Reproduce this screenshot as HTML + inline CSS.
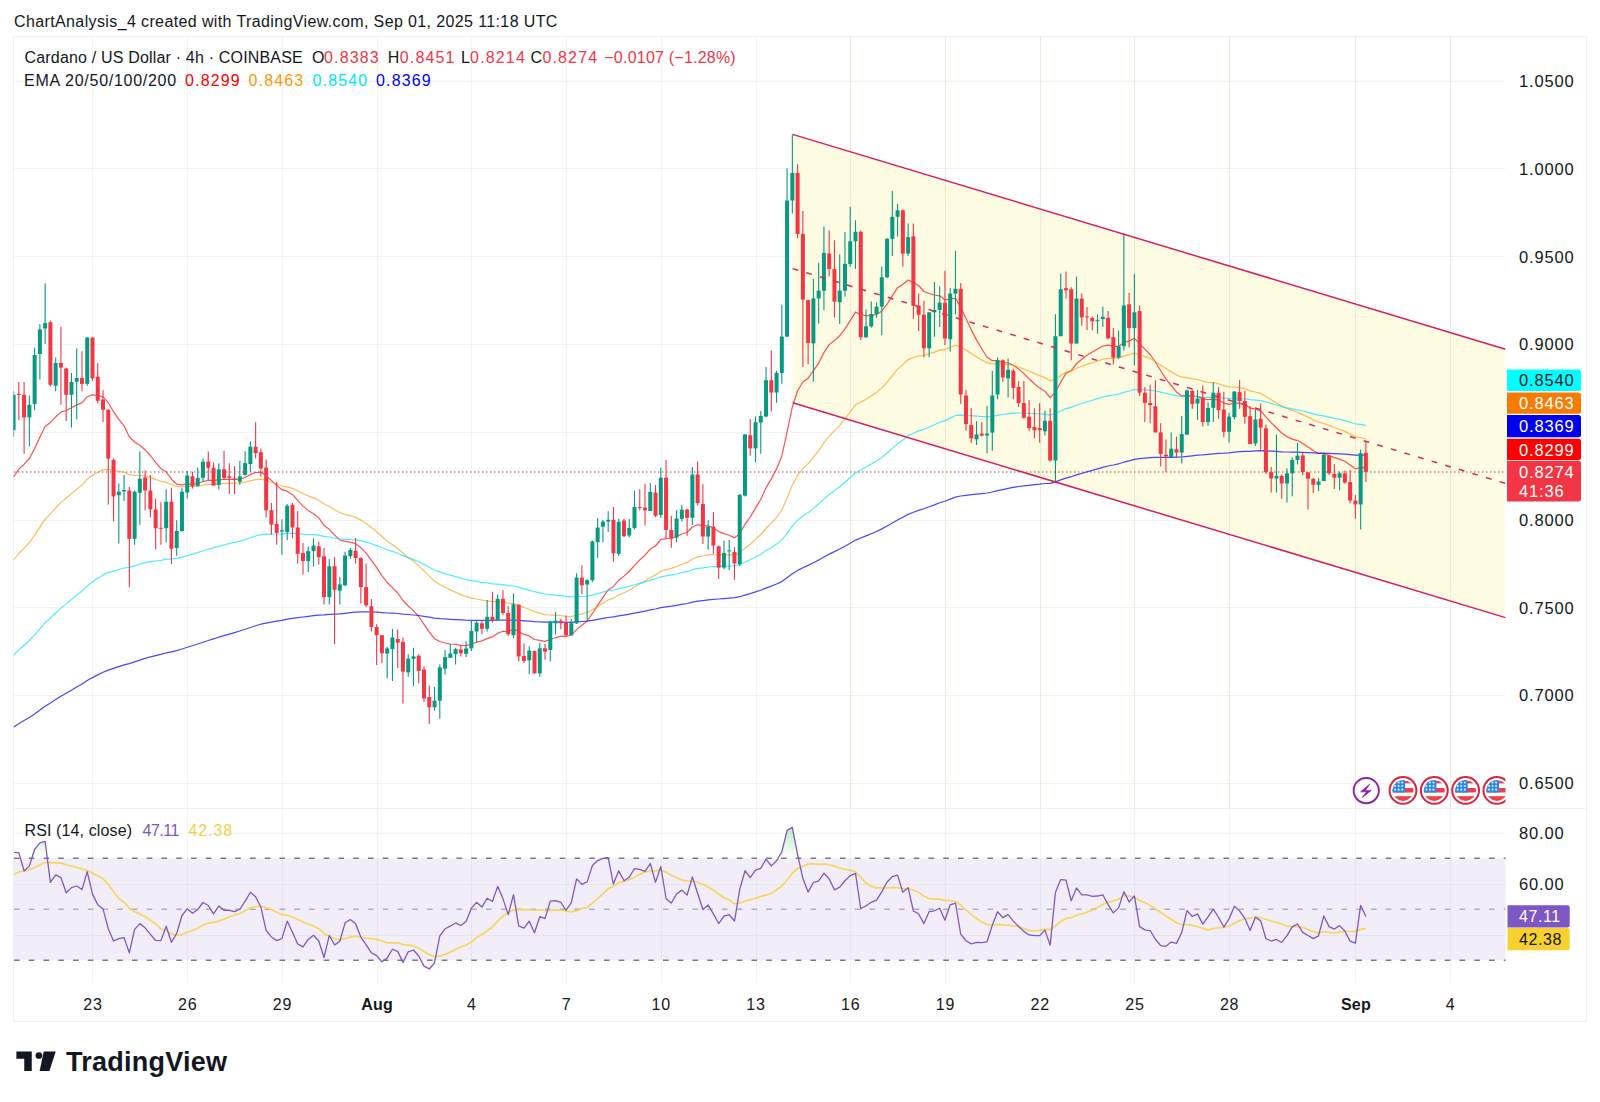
<!DOCTYPE html><html><head><meta charset="utf-8"><style>html,body{margin:0;padding:0;background:#fff;}svg{display:block;}text{font-family:"Liberation Sans",sans-serif;}</style></head><body>
<svg width="1600" height="1102" viewBox="0 0 1600 1102">
<rect x="0" y="0" width="1600" height="1102" fill="#ffffff"/>
<text x="14" y="27" font-size="16" fill="#131722" letter-spacing="0.38">ChartAnalysis_4 created with TradingView.com, Sep 01, 2025 11:18 UTC</text>
<rect x="13.5" y="36.5" width="1573" height="985" fill="none" stroke="#eef0f4" stroke-width="1"/>
<line x1="13.5" y1="808.5" x2="1586.5" y2="808.5" stroke="#eef0f4" stroke-width="1"/>
<defs><clipPath id="pane"><rect x="13.5" y="37" width="1492" height="771"/></clipPath><clipPath id="rsi"><rect x="14" y="809" width="1491.5" height="174"/></clipPath></defs>
<line x1="92.5" y1="37" x2="92.5" y2="983" stroke="#f2f3f6" stroke-width="1"/>
<line x1="187.5" y1="37" x2="187.5" y2="983" stroke="#f2f3f6" stroke-width="1"/>
<line x1="282.5" y1="37" x2="282.5" y2="983" stroke="#f2f3f6" stroke-width="1"/>
<line x1="377.5" y1="37" x2="377.5" y2="983" stroke="#f2f3f6" stroke-width="1"/>
<line x1="471.5" y1="37" x2="471.5" y2="983" stroke="#f2f3f6" stroke-width="1"/>
<line x1="566.5" y1="37" x2="566.5" y2="983" stroke="#f2f3f6" stroke-width="1"/>
<line x1="661.5" y1="37" x2="661.5" y2="983" stroke="#f2f3f6" stroke-width="1"/>
<line x1="756.5" y1="37" x2="756.5" y2="983" stroke="#f2f3f6" stroke-width="1"/>
<line x1="850.5" y1="37" x2="850.5" y2="983" stroke="#f2f3f6" stroke-width="1"/>
<line x1="945.5" y1="37" x2="945.5" y2="983" stroke="#f2f3f6" stroke-width="1"/>
<line x1="1040.5" y1="37" x2="1040.5" y2="983" stroke="#f2f3f6" stroke-width="1"/>
<line x1="1134.5" y1="37" x2="1134.5" y2="983" stroke="#f2f3f6" stroke-width="1"/>
<line x1="1229.5" y1="37" x2="1229.5" y2="983" stroke="#f2f3f6" stroke-width="1"/>
<line x1="1355.5" y1="37" x2="1355.5" y2="983" stroke="#f2f3f6" stroke-width="1"/>
<line x1="1450.5" y1="37" x2="1450.5" y2="983" stroke="#f2f3f6" stroke-width="1"/>
<line x1="14" y1="81.5" x2="1505.5" y2="81.5" stroke="#f2f3f6" stroke-width="1"/>
<line x1="14" y1="168.5" x2="1505.5" y2="168.5" stroke="#f2f3f6" stroke-width="1"/>
<line x1="14" y1="256.5" x2="1505.5" y2="256.5" stroke="#f2f3f6" stroke-width="1"/>
<line x1="14" y1="344.5" x2="1505.5" y2="344.5" stroke="#f2f3f6" stroke-width="1"/>
<line x1="14" y1="432.5" x2="1505.5" y2="432.5" stroke="#f2f3f6" stroke-width="1"/>
<line x1="14" y1="520.5" x2="1505.5" y2="520.5" stroke="#f2f3f6" stroke-width="1"/>
<line x1="14" y1="607.5" x2="1505.5" y2="607.5" stroke="#f2f3f6" stroke-width="1"/>
<line x1="14" y1="695.5" x2="1505.5" y2="695.5" stroke="#f2f3f6" stroke-width="1"/>
<line x1="14" y1="783.5" x2="1505.5" y2="783.5" stroke="#f2f3f6" stroke-width="1"/>
<line x1="14" y1="833.5" x2="1505.5" y2="833.5" stroke="#f2f3f6" stroke-width="1"/>
<line x1="14" y1="884.5" x2="1505.5" y2="884.5" stroke="#f2f3f6" stroke-width="1"/>
<line x1="14" y1="935.5" x2="1505.5" y2="935.5" stroke="#f2f3f6" stroke-width="1"/>
<g clip-path="url(#pane)">
<polygon points="792.6,134.4 1505.5,349.19677 1505.5,617.59677 792.6,402.8" fill="#fdfbe2"/>
<line x1="850.5" y1="37" x2="850.5" y2="808" stroke="#ecebd8" stroke-width="1"/>
<line x1="945.5" y1="37" x2="945.5" y2="808" stroke="#ecebd8" stroke-width="1"/>
<line x1="1040.5" y1="37" x2="1040.5" y2="808" stroke="#ecebd8" stroke-width="1"/>
<line x1="1134.5" y1="37" x2="1134.5" y2="808" stroke="#ecebd8" stroke-width="1"/>
<line x1="1229.5" y1="37" x2="1229.5" y2="808" stroke="#ecebd8" stroke-width="1"/>
<line x1="1355.5" y1="37" x2="1355.5" y2="808" stroke="#ecebd8" stroke-width="1"/>
<line x1="1450.5" y1="37" x2="1450.5" y2="808" stroke="#ecebd8" stroke-width="1"/>
</g>
<g clip-path="url(#pane)">
<line x1="14" y1="472" x2="1505.5" y2="472" stroke="#c85a5e" stroke-width="1.7" stroke-dasharray="1.4 2.6" opacity="0.8"/>
<polyline points="13.6,476.9 18.8,469.1 24.1,464.2 29.4,458.5 34.6,448.6 39.9,437.3 45.1,426.4 50.4,422.4 55.7,416.8 60.9,412.1 66.2,410.5 71.5,407.7 76.7,404.9 82.0,402.9 87.2,396.7 92.5,394.9 97.8,395.5 103.0,396.9 108.3,402.7 113.5,411.7 118.8,419.3 124.1,426.0 129.3,436.8 134.6,442.0 139.9,445.5 145.1,449.8 150.4,455.5 155.6,462.4 160.9,468.7 166.2,471.8 171.4,479.2 176.7,484.1 182.0,484.8 187.2,483.9 192.5,484.2 197.7,483.6 203.0,481.5 208.3,480.2 213.5,480.7 218.8,479.6 224.0,479.4 229.3,479.3 234.6,479.3 239.8,479.1 245.1,477.5 250.4,474.6 255.6,472.5 260.9,472.2 266.1,475.8 271.4,480.4 276.7,485.4 281.9,489.7 287.2,491.2 292.5,494.7 297.7,500.3 303.0,506.1 308.2,510.4 313.5,513.7 318.8,517.9 324.0,525.4 329.3,529.3 334.6,535.1 339.8,539.8 345.1,541.3 350.3,542.1 355.6,543.6 360.9,547.7 366.1,553.2 371.4,560.3 376.6,567.4 381.9,575.6 387.2,582.5 392.4,587.7 397.7,593.0 403.0,600.5 408.2,606.0 413.5,610.8 418.7,616.5 424.0,624.3 429.3,632.2 434.5,638.7 439.8,641.5 445.1,643.0 450.3,644.0 455.6,644.4 460.8,645.3 466.1,645.6 471.4,644.2 476.6,642.2 481.9,640.9 487.1,638.6 492.4,636.9 497.7,633.3 502.9,631.3 508.2,631.6 513.5,629.0 518.7,631.6 524.0,634.4 529.2,635.9 534.5,639.5 539.8,640.3 545.0,641.4 550.3,639.5 555.6,637.7 560.8,636.4 566.1,636.3 571.3,635.0 576.6,629.6 581.9,625.3 587.1,621.0 592.4,613.5 597.7,605.3 602.9,597.3 608.2,589.9 613.4,586.4 618.7,580.3 624.0,576.1 629.2,571.5 634.5,565.4 639.7,559.9 645.0,555.2 650.3,549.1 655.5,546.0 660.8,539.5 666.1,538.6 671.3,538.5 676.6,536.6 681.8,534.0 687.1,532.5 692.4,527.0 697.6,524.7 702.9,525.8 708.2,525.9 713.4,527.8 718.7,531.6 723.9,533.6 729.2,535.2 734.5,537.9 739.7,533.8 745.0,524.3 750.2,517.1 755.5,508.1 760.8,499.3 766.0,487.9 771.3,478.9 776.6,468.8 781.8,456.2 787.1,431.8 792.3,407.2 797.6,390.7 802.9,382.0 808.1,378.3 813.4,370.7 818.7,363.1 823.9,352.6 829.2,344.6 834.4,340.5 839.7,335.8 845.0,328.9 850.2,320.6 855.5,312.1 860.8,314.5 866.0,315.6 871.3,315.5 876.5,314.6 881.8,311.1 887.1,304.2 892.3,295.9 897.6,287.7 902.8,284.5 908.1,280.0 913.4,282.4 918.6,285.5 923.9,291.5 929.2,293.5 934.4,295.0 939.7,295.8 944.9,299.8 950.2,299.2 955.5,298.2 960.7,307.4 966.0,318.5 971.3,329.9 976.5,339.9 981.8,349.0 987.0,357.0 992.3,360.7 997.6,360.7 1002.8,362.3 1008.1,363.0 1013.3,365.3 1018.6,368.9 1023.9,373.6 1029.1,378.8 1034.4,383.7 1039.7,388.1 1044.9,391.2 1050.2,397.8 1055.4,391.9 1060.7,382.2 1066.0,373.4 1071.2,370.6 1076.5,363.7 1081.8,359.3 1087.0,355.3 1092.3,352.1 1097.5,349.0 1102.8,346.0 1108.1,345.2 1113.3,346.4 1118.6,346.4 1123.9,342.5 1129.1,341.1 1134.4,338.4 1139.6,343.6 1144.9,349.2 1150.2,354.5 1155.4,362.0 1160.7,370.7 1165.9,378.9 1171.2,385.5 1176.5,391.9 1181.7,395.9 1187.0,395.4 1192.3,396.2 1197.5,396.4 1202.8,398.9 1208.0,399.7 1213.3,399.1 1218.6,400.1 1223.8,403.1 1229.1,404.4 1234.4,403.2 1239.6,403.0 1244.9,404.3 1250.1,408.1 1255.4,409.2 1260.7,410.9 1265.9,416.8 1271.2,422.6 1276.4,427.7 1281.7,433.0 1287.0,436.8 1292.2,439.1 1297.5,440.6 1302.8,443.6 1308.0,447.0 1313.3,450.6 1318.5,453.5 1323.8,453.6 1329.1,455.5 1334.3,457.6 1339.6,459.1 1344.9,461.3 1350.1,465.1 1355.4,468.8 1360.6,467.3 1365.9,467.8" fill="none" stroke="#FF0000" stroke-width="1.2" opacity="0.68" stroke-linejoin="round"/>
<polyline points="13.6,560.0 18.8,553.5 24.1,548.2 29.4,542.5 34.6,535.2 39.9,527.1 45.1,519.1 50.4,513.8 55.7,507.9 60.9,502.4 66.2,498.2 71.5,493.6 76.7,489.1 82.0,485.0 87.2,479.2 92.5,475.3 97.8,472.3 103.0,469.9 108.3,469.4 113.5,470.5 118.8,471.3 124.1,472.1 129.3,474.7 134.6,475.3 139.9,475.5 145.1,476.1 150.4,477.4 155.6,479.4 160.9,481.3 166.2,482.1 171.4,484.7 176.7,486.5 182.0,486.7 187.2,486.3 192.5,486.3 197.7,486.0 203.0,485.0 208.3,484.3 213.5,484.4 218.8,483.8 224.0,483.5 229.3,483.3 234.6,483.2 239.8,482.9 245.1,482.1 250.4,480.8 255.6,479.7 260.9,479.2 266.1,480.4 271.4,482.2 276.7,484.2 281.9,486.0 287.2,486.8 292.5,488.3 297.7,490.9 303.0,493.7 308.2,495.9 313.5,497.9 318.8,500.2 324.0,504.0 329.3,506.4 334.6,509.7 339.8,512.6 345.1,514.3 350.3,515.7 355.6,517.4 360.9,520.1 366.1,523.4 371.4,527.5 376.6,531.7 381.9,536.5 387.2,540.9 392.4,544.7 397.7,548.5 403.0,553.3 408.2,557.5 413.5,561.3 418.7,565.6 424.0,570.9 429.3,576.2 434.5,581.1 439.8,584.5 445.1,587.3 450.3,589.9 455.6,592.2 460.8,594.6 466.1,596.7 471.4,598.1 476.6,599.0 481.9,600.2 487.1,600.9 492.4,601.6 497.7,601.5 502.9,602.0 508.2,603.2 513.5,603.3 518.7,605.4 524.0,607.5 529.2,609.2 534.5,611.7 539.8,613.2 545.0,614.7 550.3,615.0 555.6,615.2 560.8,615.5 566.1,616.3 571.3,616.6 576.6,615.0 581.9,613.9 587.1,612.5 592.4,609.8 597.7,606.5 602.9,603.2 608.2,599.9 613.4,598.1 618.7,595.1 624.0,592.8 629.2,590.3 634.5,587.0 639.7,583.9 645.0,581.0 650.3,577.5 655.5,575.1 660.8,571.3 666.1,569.6 671.3,568.4 676.6,566.5 681.8,564.2 687.1,562.4 692.4,559.0 697.6,556.8 702.9,556.0 708.2,554.8 713.4,554.5 718.7,555.0 723.9,554.9 729.2,554.7 734.5,555.1 739.7,552.7 745.0,548.1 750.2,544.2 755.5,539.4 760.8,534.5 766.0,528.5 771.3,523.1 776.6,517.3 781.8,510.2 787.1,498.0 792.3,485.3 797.6,475.4 802.9,468.5 808.1,463.6 813.4,457.1 818.7,450.6 823.9,442.8 829.2,436.0 834.4,430.8 839.7,425.3 845.0,418.9 850.2,412.0 855.5,404.9 860.8,402.2 866.0,399.3 871.3,395.9 876.5,392.4 881.8,387.9 887.1,382.1 892.3,375.6 897.6,369.1 902.8,364.6 908.1,359.6 913.4,357.5 918.6,355.8 923.9,355.5 929.2,353.8 934.4,352.1 939.7,350.1 944.9,349.7 950.2,347.5 955.5,345.2 960.7,347.1 966.0,350.1 971.3,353.6 976.5,356.8 981.8,359.9 987.0,362.7 992.3,364.0 997.6,363.9 1002.8,364.4 1008.1,364.6 1013.3,365.5 1018.6,367.0 1023.9,369.0 1029.1,371.3 1034.4,373.6 1039.7,375.8 1044.9,377.6 1050.2,380.9 1055.4,379.1 1060.7,375.6 1066.0,372.2 1071.2,371.1 1076.5,368.3 1081.8,366.3 1087.0,364.4 1092.3,362.7 1097.5,361.0 1102.8,359.3 1108.1,358.4 1113.3,358.4 1118.6,357.9 1123.9,355.9 1129.1,354.8 1134.4,353.1 1139.6,354.7 1144.9,356.6 1150.2,358.5 1155.4,361.4 1160.7,365.0 1165.9,368.6 1171.2,371.7 1176.5,374.9 1181.7,377.2 1187.0,377.7 1192.3,378.8 1197.5,379.5 1202.8,381.2 1208.0,382.3 1213.3,382.7 1218.6,383.7 1223.8,385.6 1229.1,386.8 1234.4,387.0 1239.6,387.6 1244.9,388.7 1250.1,390.9 1255.4,392.0 1260.7,393.4 1265.9,396.5 1271.2,399.7 1276.4,402.7 1281.7,405.9 1287.0,408.5 1292.2,410.5 1297.5,412.3 1302.8,414.6 1308.0,417.1 1313.3,419.8 1318.5,422.2 1323.8,423.5 1329.1,425.4 1334.3,427.5 1339.6,429.3 1344.9,431.4 1350.1,434.1 1355.4,436.9 1360.6,437.5 1365.9,438.8" fill="none" stroke="#FF9800" stroke-width="1.2" opacity="0.65" stroke-linejoin="round"/>
<polyline points="13.6,655.0 18.8,649.9 24.1,645.3 29.4,640.5 34.6,634.9 39.9,628.8 45.1,622.8 50.4,618.1 55.7,613.0 60.9,608.1 66.2,603.9 71.5,599.5 76.7,595.1 82.0,591.0 87.2,585.9 92.5,581.8 97.8,578.2 103.0,574.9 108.3,572.6 113.5,571.1 118.8,569.5 124.1,568.0 129.3,567.4 134.6,565.9 139.9,564.2 145.1,562.7 150.4,561.6 155.6,561.0 160.9,560.3 166.2,559.2 171.4,559.0 176.7,558.4 182.0,557.1 187.2,555.5 192.5,554.1 197.7,552.6 203.0,550.8 208.3,549.2 213.5,547.9 218.8,546.3 224.0,545.0 229.3,543.6 234.6,542.4 239.8,541.1 245.1,539.5 250.4,537.7 255.6,536.0 260.9,534.7 266.1,534.2 271.4,534.0 276.7,534.0 281.9,533.9 287.2,533.4 292.5,533.2 297.7,533.6 303.0,534.2 308.2,534.5 313.5,534.7 318.8,535.2 324.0,536.4 329.3,537.0 334.6,538.1 339.8,539.0 345.1,539.3 350.3,539.5 355.6,539.9 360.9,540.8 366.1,542.1 371.4,543.8 376.6,545.6 381.9,547.7 387.2,549.7 392.4,551.4 397.7,553.2 403.0,555.6 408.2,557.6 413.5,559.6 418.7,561.8 424.0,564.5 429.3,567.3 434.5,570.0 439.8,571.9 445.1,573.6 450.3,575.2 455.6,576.6 460.8,578.1 466.1,579.5 471.4,580.6 476.6,581.4 481.9,582.3 487.1,583.0 492.4,583.8 497.7,584.1 502.9,584.6 508.2,585.6 513.5,586.0 518.7,587.4 524.0,588.8 529.2,590.1 534.5,591.7 539.8,592.8 545.0,594.0 550.3,594.5 555.6,595.1 560.8,595.6 566.1,596.4 571.3,596.9 576.6,596.6 581.9,596.3 587.1,596.0 592.4,594.9 597.7,593.6 602.9,592.2 608.2,590.7 613.4,590.0 618.7,588.6 624.0,587.6 629.2,586.4 634.5,584.8 639.7,583.3 645.0,581.9 650.3,580.1 655.5,578.8 660.8,576.8 666.1,575.9 671.3,575.1 676.6,574.0 681.8,572.7 687.1,571.7 692.4,569.7 697.6,568.4 702.9,567.8 708.2,567.0 713.4,566.5 718.7,566.6 723.9,566.3 729.2,566.0 734.5,565.9 739.7,564.5 745.0,562.0 750.2,559.7 755.5,557.0 760.8,554.2 766.0,550.7 771.3,547.6 776.6,544.1 781.8,540.0 787.1,533.3 792.3,526.2 797.6,520.4 802.9,516.0 808.1,512.6 813.4,508.4 818.7,504.0 823.9,499.1 829.2,494.5 834.4,490.7 839.7,486.7 845.0,482.3 850.2,477.5 855.5,472.7 860.8,470.0 866.0,467.2 871.3,464.1 876.5,461.0 881.8,457.4 887.1,453.0 892.3,448.4 897.6,443.6 902.8,439.9 908.1,435.9 913.4,433.3 918.6,430.9 923.9,429.3 929.2,427.0 934.4,424.7 939.7,422.3 944.9,420.6 950.2,418.1 955.5,415.5 960.7,415.1 966.0,415.3 971.3,415.7 976.5,416.1 981.8,416.5 987.0,416.8 992.3,416.4 997.6,415.3 1002.8,414.5 1008.1,413.7 1013.3,413.1 1018.6,413.0 1023.9,413.0 1029.1,413.3 1034.4,413.7 1039.7,414.0 1044.9,414.1 1050.2,415.1 1055.4,413.5 1060.7,411.0 1066.0,408.6 1071.2,407.4 1076.5,405.2 1081.8,403.5 1087.0,401.8 1092.3,400.2 1097.5,398.6 1102.8,397.0 1108.1,395.8 1113.3,395.0 1118.6,394.1 1123.9,392.3 1129.1,391.0 1134.4,389.5 1139.6,389.6 1144.9,389.8 1150.2,390.1 1155.4,391.0 1160.7,392.2 1165.9,393.5 1171.2,394.6 1176.5,395.7 1181.7,396.5 1187.0,396.4 1192.3,396.5 1197.5,396.6 1202.8,397.1 1208.0,397.3 1213.3,397.2 1218.6,397.4 1223.8,398.1 1229.1,398.5 1234.4,398.3 1239.6,398.4 1244.9,398.8 1250.1,399.7 1255.4,400.1 1260.7,400.6 1265.9,402.0 1271.2,403.5 1276.4,405.0 1281.7,406.5 1287.0,407.8 1292.2,408.9 1297.5,409.8 1302.8,411.0 1308.0,412.4 1313.3,413.8 1318.5,415.1 1323.8,415.9 1329.1,417.1 1334.3,418.3 1339.6,419.4 1344.9,420.6 1350.1,422.2 1355.4,423.8 1360.6,424.4 1365.9,425.3" fill="none" stroke="#00E5FF" stroke-width="1.2" opacity="0.7" stroke-linejoin="round"/>
<polyline points="13.6,727.0 18.8,723.7 24.1,720.6 29.4,717.5 34.6,713.9 39.9,710.0 45.1,706.2 50.4,703.0 55.7,699.6 60.9,696.3 66.2,693.3 71.5,690.2 76.7,687.1 82.0,684.1 87.2,680.6 92.5,677.6 97.8,674.9 103.0,672.2 108.3,670.1 113.5,668.4 118.8,666.6 124.1,664.9 129.3,663.6 134.6,661.9 139.9,660.1 145.1,658.4 150.4,656.9 155.6,655.6 160.9,654.4 166.2,652.8 171.4,651.8 176.7,650.6 182.0,649.0 187.2,647.3 192.5,645.7 197.7,644.0 203.0,642.2 208.3,640.5 213.5,638.9 218.8,637.2 224.0,635.7 229.3,634.1 234.6,632.6 239.8,631.0 245.1,629.3 250.4,627.5 255.6,625.8 260.9,624.2 266.1,623.1 271.4,622.1 276.7,621.2 281.9,620.3 287.2,619.2 292.5,618.3 297.7,617.6 303.0,617.0 308.2,616.4 313.5,615.7 318.8,615.1 324.0,614.9 329.3,614.4 334.6,614.2 339.8,613.9 345.1,613.3 350.3,612.7 355.6,612.1 360.9,611.9 366.1,611.8 371.4,612.0 376.6,612.2 381.9,612.6 387.2,613.0 392.4,613.2 397.7,613.5 403.0,614.1 408.2,614.5 413.5,615.0 418.7,615.5 424.0,616.3 429.3,617.2 434.5,618.1 439.8,618.6 445.1,618.9 450.3,619.3 455.6,619.6 460.8,619.9 466.1,620.2 471.4,620.3 476.6,620.3 481.9,620.4 487.1,620.4 492.4,620.4 497.7,620.2 502.9,620.1 508.2,620.2 513.5,620.1 518.7,620.4 524.0,620.8 529.2,621.1 534.5,621.7 539.8,621.9 545.0,622.2 550.3,622.2 555.6,622.2 560.8,622.2 566.1,622.3 571.3,622.4 576.6,621.9 581.9,621.5 587.1,621.1 592.4,620.3 597.7,619.4 602.9,618.4 608.2,617.5 613.4,616.8 618.7,615.9 624.0,615.1 629.2,614.2 634.5,613.1 639.7,612.1 645.0,611.1 650.3,609.9 655.5,609.0 660.8,607.7 666.1,606.9 671.3,606.2 676.6,605.3 681.8,604.4 687.1,603.5 692.4,602.2 697.6,601.2 702.9,600.6 708.2,599.9 713.4,599.3 718.7,599.0 723.9,598.6 729.2,598.1 734.5,597.7 739.7,596.7 745.0,595.1 750.2,593.6 755.5,591.9 760.8,590.2 766.0,588.1 771.3,586.1 776.6,584.0 781.8,581.6 787.1,577.8 792.3,573.7 797.6,570.4 802.9,567.7 808.1,565.4 813.4,562.8 818.7,560.1 823.9,557.0 829.2,554.1 834.4,551.6 839.7,549.0 845.0,546.2 850.2,543.2 855.5,540.1 860.8,538.0 866.0,535.9 871.3,533.7 876.5,531.5 881.8,528.9 887.1,526.0 892.3,523.0 897.6,519.9 902.8,517.2 908.1,514.4 913.4,512.3 918.6,510.4 923.9,508.8 929.2,506.8 934.4,504.9 939.7,502.8 944.9,501.2 950.2,499.1 955.5,497.1 960.7,496.0 966.0,495.3 971.3,494.7 976.5,494.1 981.8,493.6 987.0,493.0 992.3,492.0 997.6,490.7 1002.8,489.6 1008.1,488.4 1013.3,487.4 1018.6,486.5 1023.9,485.8 1029.1,485.3 1034.4,484.7 1039.7,484.2 1044.9,483.5 1050.2,483.3 1055.4,481.9 1060.7,479.9 1066.0,478.1 1071.2,476.7 1076.5,474.9 1081.8,473.4 1087.0,471.8 1092.3,470.3 1097.5,468.8 1102.8,467.3 1108.1,466.0 1113.3,465.0 1118.6,463.8 1123.9,462.2 1129.1,460.9 1134.4,459.4 1139.6,458.7 1144.9,458.2 1150.2,457.6 1155.4,457.4 1160.7,457.4 1165.9,457.3 1171.2,457.3 1176.5,457.2 1181.7,457.0 1187.0,456.3 1192.3,455.8 1197.5,455.2 1202.8,454.9 1208.0,454.4 1213.3,453.8 1218.6,453.4 1223.8,453.2 1229.1,452.8 1234.4,452.2 1239.6,451.7 1244.9,451.3 1250.1,451.3 1255.4,450.9 1260.7,450.7 1265.9,450.9 1271.2,451.2 1276.4,451.4 1281.7,451.8 1287.0,452.0 1292.2,452.1 1297.5,452.1 1302.8,452.3 1308.0,452.6 1313.3,452.9 1318.5,453.2 1323.8,453.2 1329.1,453.4 1334.3,453.6 1339.6,453.8 1344.9,454.1 1350.1,454.6 1355.4,455.1 1360.6,455.0 1365.9,455.2" fill="none" stroke="#0000FF" stroke-width="1.2" opacity="0.72" stroke-linejoin="round"/>
<line x1="13.57" y1="391.2" x2="13.57" y2="436.5" stroke="#089981" stroke-width="1.1"/>
<rect x="11.57" y="394.8" width="4" height="35.4" fill="#089981"/>
<line x1="18.83" y1="382.0" x2="18.83" y2="420.0" stroke="#F23645" stroke-width="1.1"/>
<rect x="16.83" y="393.9" width="4" height="1.1" fill="#F23645"/>
<line x1="24.09" y1="382.0" x2="24.09" y2="453.8" stroke="#F23645" stroke-width="1.1"/>
<rect x="22.09" y="394.8" width="4" height="22.7" fill="#F23645"/>
<line x1="29.36" y1="395.7" x2="29.36" y2="446.5" stroke="#089981" stroke-width="1.1"/>
<rect x="27.36" y="404.8" width="4" height="12.7" fill="#089981"/>
<line x1="34.62" y1="347.6" x2="34.62" y2="410.2" stroke="#089981" stroke-width="1.1"/>
<rect x="32.62" y="354.9" width="4" height="49.0" fill="#089981"/>
<line x1="39.88" y1="324.0" x2="39.88" y2="379.4" stroke="#089981" stroke-width="1.1"/>
<rect x="37.88" y="329.4" width="4" height="24.6" fill="#089981"/>
<line x1="45.14" y1="283.2" x2="45.14" y2="344.0" stroke="#089981" stroke-width="1.1"/>
<rect x="43.14" y="323.1" width="4" height="5.4" fill="#089981"/>
<line x1="50.40" y1="320.4" x2="50.40" y2="386.6" stroke="#F23645" stroke-width="1.1"/>
<rect x="48.40" y="322.2" width="4" height="62.6" fill="#F23645"/>
<line x1="55.67" y1="357.6" x2="55.67" y2="391.2" stroke="#089981" stroke-width="1.1"/>
<rect x="53.67" y="363.0" width="4" height="22.7" fill="#089981"/>
<line x1="60.93" y1="326.7" x2="60.93" y2="404.8" stroke="#F23645" stroke-width="1.1"/>
<rect x="58.93" y="363.0" width="4" height="4.6" fill="#F23645"/>
<line x1="66.19" y1="367.6" x2="66.19" y2="421.0" stroke="#F23645" stroke-width="1.1"/>
<rect x="64.19" y="368.5" width="4" height="26.3" fill="#F23645"/>
<line x1="71.45" y1="373.0" x2="71.45" y2="427.5" stroke="#089981" stroke-width="1.1"/>
<rect x="69.45" y="382.0" width="4" height="12.8" fill="#089981"/>
<line x1="76.71" y1="348.5" x2="76.71" y2="419.3" stroke="#089981" stroke-width="1.1"/>
<rect x="74.71" y="378.0" width="4" height="3.7" fill="#089981"/>
<line x1="81.98" y1="351.2" x2="81.98" y2="391.2" stroke="#F23645" stroke-width="1.1"/>
<rect x="79.98" y="378.0" width="4" height="5.9" fill="#F23645"/>
<line x1="87.24" y1="336.7" x2="87.24" y2="385.7" stroke="#089981" stroke-width="1.1"/>
<rect x="85.24" y="337.6" width="4" height="46.3" fill="#089981"/>
<line x1="92.50" y1="337.1" x2="92.50" y2="380.7" stroke="#F23645" stroke-width="1.1"/>
<rect x="90.50" y="337.6" width="4" height="40.8" fill="#F23645"/>
<line x1="97.76" y1="363.0" x2="97.76" y2="403.2" stroke="#F23645" stroke-width="1.1"/>
<rect x="95.76" y="376.7" width="4" height="24.1" fill="#F23645"/>
<line x1="103.02" y1="390.2" x2="103.02" y2="422.0" stroke="#F23645" stroke-width="1.1"/>
<rect x="101.02" y="399.6" width="4" height="10.2" fill="#F23645"/>
<line x1="108.29" y1="409.0" x2="108.29" y2="504.6" stroke="#F23645" stroke-width="1.1"/>
<rect x="106.29" y="409.8" width="4" height="48.8" fill="#F23645"/>
<line x1="113.55" y1="458.6" x2="113.55" y2="521.2" stroke="#F23645" stroke-width="1.1"/>
<rect x="111.55" y="459.8" width="4" height="36.6" fill="#F23645"/>
<line x1="118.81" y1="483.4" x2="118.81" y2="543.6" stroke="#089981" stroke-width="1.1"/>
<rect x="116.81" y="491.7" width="4" height="3.5" fill="#089981"/>
<line x1="124.07" y1="475.1" x2="124.07" y2="501.1" stroke="#089981" stroke-width="1.1"/>
<rect x="122.07" y="490.0" width="4" height="1.4" fill="#089981"/>
<line x1="129.33" y1="487.0" x2="129.33" y2="587.2" stroke="#F23645" stroke-width="1.1"/>
<rect x="127.33" y="490.5" width="4" height="48.3" fill="#F23645"/>
<line x1="134.60" y1="490.5" x2="134.60" y2="544.7" stroke="#089981" stroke-width="1.1"/>
<rect x="132.60" y="491.7" width="4" height="47.1" fill="#089981"/>
<line x1="139.86" y1="451.5" x2="139.86" y2="524.7" stroke="#089981" stroke-width="1.1"/>
<rect x="137.86" y="478.7" width="4" height="14.1" fill="#089981"/>
<line x1="145.12" y1="470.4" x2="145.12" y2="510.5" stroke="#F23645" stroke-width="1.1"/>
<rect x="143.12" y="477.5" width="4" height="13.0" fill="#F23645"/>
<line x1="150.38" y1="475.1" x2="150.38" y2="517.6" stroke="#F23645" stroke-width="1.1"/>
<rect x="148.38" y="490.5" width="4" height="18.9" fill="#F23645"/>
<line x1="155.64" y1="498.7" x2="155.64" y2="549.5" stroke="#F23645" stroke-width="1.1"/>
<rect x="153.64" y="509.4" width="4" height="18.8" fill="#F23645"/>
<line x1="160.91" y1="502.3" x2="160.91" y2="544.7" stroke="#F23645" stroke-width="1.1"/>
<rect x="158.91" y="527.8" width="4" height="1.0" fill="#F23645"/>
<line x1="166.17" y1="489.3" x2="166.17" y2="542.4" stroke="#089981" stroke-width="1.1"/>
<rect x="164.17" y="501.7" width="4" height="26.5" fill="#089981"/>
<line x1="171.43" y1="487.8" x2="171.43" y2="564.1" stroke="#F23645" stroke-width="1.1"/>
<rect x="169.43" y="501.7" width="4" height="47.0" fill="#F23645"/>
<line x1="176.69" y1="520.2" x2="176.69" y2="555.7" stroke="#089981" stroke-width="1.1"/>
<rect x="174.69" y="531.0" width="4" height="17.0" fill="#089981"/>
<line x1="181.95" y1="487.8" x2="181.95" y2="531.8" stroke="#089981" stroke-width="1.1"/>
<rect x="179.95" y="491.7" width="4" height="39.3" fill="#089981"/>
<line x1="187.22" y1="470.9" x2="187.22" y2="498.6" stroke="#089981" stroke-width="1.1"/>
<rect x="185.22" y="475.5" width="4" height="17.0" fill="#089981"/>
<line x1="192.48" y1="471.7" x2="192.48" y2="488.6" stroke="#F23645" stroke-width="1.1"/>
<rect x="190.48" y="476.3" width="4" height="10.0" fill="#F23645"/>
<line x1="197.74" y1="467.8" x2="197.74" y2="486.3" stroke="#089981" stroke-width="1.1"/>
<rect x="195.74" y="477.8" width="4" height="8.5" fill="#089981"/>
<line x1="203.00" y1="458.6" x2="203.00" y2="481.7" stroke="#089981" stroke-width="1.1"/>
<rect x="201.00" y="461.6" width="4" height="16.2" fill="#089981"/>
<line x1="208.26" y1="451.6" x2="208.26" y2="480.1" stroke="#F23645" stroke-width="1.1"/>
<rect x="206.26" y="461.6" width="4" height="6.2" fill="#F23645"/>
<line x1="213.53" y1="462.4" x2="213.53" y2="485.5" stroke="#F23645" stroke-width="1.1"/>
<rect x="211.53" y="467.8" width="4" height="17.7" fill="#F23645"/>
<line x1="218.79" y1="463.2" x2="218.79" y2="489.4" stroke="#089981" stroke-width="1.1"/>
<rect x="216.79" y="469.3" width="4" height="15.5" fill="#089981"/>
<line x1="224.05" y1="450.8" x2="224.05" y2="480.1" stroke="#F23645" stroke-width="1.1"/>
<rect x="222.05" y="469.3" width="4" height="8.5" fill="#F23645"/>
<line x1="229.31" y1="463.2" x2="229.31" y2="494.0" stroke="#F23645" stroke-width="1.1"/>
<rect x="227.31" y="476.3" width="4" height="1.5" fill="#F23645"/>
<line x1="234.57" y1="466.3" x2="234.57" y2="494.0" stroke="#F23645" stroke-width="1.1"/>
<rect x="232.57" y="478.6" width="4" height="1.5" fill="#F23645"/>
<line x1="239.84" y1="460.9" x2="239.84" y2="484.8" stroke="#089981" stroke-width="1.1"/>
<rect x="237.84" y="476.3" width="4" height="5.4" fill="#089981"/>
<line x1="245.10" y1="451.3" x2="245.10" y2="475.8" stroke="#089981" stroke-width="1.1"/>
<rect x="243.10" y="463.1" width="4" height="11.8" fill="#089981"/>
<line x1="250.36" y1="441.3" x2="250.36" y2="472.1" stroke="#089981" stroke-width="1.1"/>
<rect x="248.36" y="446.7" width="4" height="17.3" fill="#089981"/>
<line x1="255.62" y1="422.3" x2="255.62" y2="458.5" stroke="#F23645" stroke-width="1.1"/>
<rect x="253.62" y="446.7" width="4" height="6.4" fill="#F23645"/>
<line x1="260.88" y1="448.6" x2="260.88" y2="476.7" stroke="#F23645" stroke-width="1.1"/>
<rect x="258.88" y="452.2" width="4" height="16.3" fill="#F23645"/>
<line x1="266.15" y1="459.4" x2="266.15" y2="517.5" stroke="#F23645" stroke-width="1.1"/>
<rect x="264.15" y="467.6" width="4" height="42.6" fill="#F23645"/>
<line x1="271.41" y1="503.0" x2="271.41" y2="534.7" stroke="#F23645" stroke-width="1.1"/>
<rect x="269.41" y="510.2" width="4" height="14.5" fill="#F23645"/>
<line x1="276.67" y1="482.1" x2="276.67" y2="544.7" stroke="#F23645" stroke-width="1.1"/>
<rect x="274.67" y="523.8" width="4" height="9.1" fill="#F23645"/>
<line x1="281.93" y1="519.3" x2="281.93" y2="554.7" stroke="#089981" stroke-width="1.1"/>
<rect x="279.93" y="530.2" width="4" height="1.3" fill="#089981"/>
<line x1="287.19" y1="503.9" x2="287.19" y2="540.2" stroke="#089981" stroke-width="1.1"/>
<rect x="285.19" y="505.7" width="4" height="26.3" fill="#089981"/>
<line x1="292.46" y1="503.0" x2="292.46" y2="538.4" stroke="#F23645" stroke-width="1.1"/>
<rect x="290.46" y="504.8" width="4" height="22.7" fill="#F23645"/>
<line x1="297.72" y1="511.1" x2="297.72" y2="563.8" stroke="#F23645" stroke-width="1.1"/>
<rect x="295.72" y="527.5" width="4" height="26.3" fill="#F23645"/>
<line x1="302.98" y1="542.9" x2="302.98" y2="574.6" stroke="#F23645" stroke-width="1.1"/>
<rect x="300.98" y="552.9" width="4" height="8.1" fill="#F23645"/>
<line x1="308.24" y1="546.5" x2="308.24" y2="571.9" stroke="#089981" stroke-width="1.1"/>
<rect x="306.24" y="551.1" width="4" height="9.9" fill="#089981"/>
<line x1="313.50" y1="538.4" x2="313.50" y2="566.5" stroke="#089981" stroke-width="1.1"/>
<rect x="311.50" y="545.6" width="4" height="5.5" fill="#089981"/>
<line x1="318.77" y1="541.8" x2="318.77" y2="564.4" stroke="#F23645" stroke-width="1.1"/>
<rect x="316.77" y="546.3" width="4" height="10.9" fill="#F23645"/>
<line x1="324.03" y1="548.1" x2="324.03" y2="604.4" stroke="#F23645" stroke-width="1.1"/>
<rect x="322.03" y="556.3" width="4" height="40.8" fill="#F23645"/>
<line x1="329.29" y1="559.0" x2="329.29" y2="604.4" stroke="#089981" stroke-width="1.1"/>
<rect x="327.29" y="566.3" width="4" height="30.8" fill="#089981"/>
<line x1="334.55" y1="557.2" x2="334.55" y2="644.3" stroke="#F23645" stroke-width="1.1"/>
<rect x="332.55" y="566.3" width="4" height="23.5" fill="#F23645"/>
<line x1="339.81" y1="577.1" x2="339.81" y2="604.4" stroke="#089981" stroke-width="1.1"/>
<rect x="337.81" y="584.4" width="4" height="6.3" fill="#089981"/>
<line x1="345.08" y1="551.7" x2="345.08" y2="586.2" stroke="#089981" stroke-width="1.1"/>
<rect x="343.08" y="555.4" width="4" height="29.9" fill="#089981"/>
<line x1="350.34" y1="548.1" x2="350.34" y2="559.0" stroke="#089981" stroke-width="1.1"/>
<rect x="348.34" y="549.9" width="4" height="6.4" fill="#089981"/>
<line x1="355.60" y1="538.1" x2="355.60" y2="563.5" stroke="#F23645" stroke-width="1.1"/>
<rect x="353.60" y="550.8" width="4" height="7.3" fill="#F23645"/>
<line x1="360.86" y1="557.2" x2="360.86" y2="603.4" stroke="#F23645" stroke-width="1.1"/>
<rect x="358.86" y="558.1" width="4" height="29.0" fill="#F23645"/>
<line x1="366.12" y1="563.5" x2="366.12" y2="607.1" stroke="#F23645" stroke-width="1.1"/>
<rect x="364.12" y="587.1" width="4" height="18.2" fill="#F23645"/>
<line x1="371.39" y1="598.9" x2="371.39" y2="631.6" stroke="#F23645" stroke-width="1.1"/>
<rect x="369.39" y="606.2" width="4" height="20.8" fill="#F23645"/>
<line x1="376.65" y1="624.3" x2="376.65" y2="665.1" stroke="#F23645" stroke-width="1.1"/>
<rect x="374.65" y="627.0" width="4" height="8.2" fill="#F23645"/>
<line x1="381.91" y1="635.2" x2="381.91" y2="663.3" stroke="#F23645" stroke-width="1.1"/>
<rect x="379.91" y="635.2" width="4" height="18.1" fill="#F23645"/>
<line x1="387.17" y1="647.0" x2="387.17" y2="678.2" stroke="#089981" stroke-width="1.1"/>
<rect x="385.17" y="648.4" width="4" height="5.1" fill="#089981"/>
<line x1="392.43" y1="628.8" x2="392.43" y2="681.1" stroke="#089981" stroke-width="1.1"/>
<rect x="390.43" y="637.5" width="4" height="11.6" fill="#089981"/>
<line x1="397.70" y1="629.5" x2="397.70" y2="668.0" stroke="#F23645" stroke-width="1.1"/>
<rect x="395.70" y="639.0" width="4" height="3.6" fill="#F23645"/>
<line x1="402.96" y1="637.5" x2="402.96" y2="703.6" stroke="#F23645" stroke-width="1.1"/>
<rect x="400.96" y="641.9" width="4" height="29.7" fill="#F23645"/>
<line x1="408.22" y1="654.2" x2="408.22" y2="676.7" stroke="#089981" stroke-width="1.1"/>
<rect x="406.22" y="658.6" width="4" height="13.8" fill="#089981"/>
<line x1="413.48" y1="647.7" x2="413.48" y2="686.2" stroke="#089981" stroke-width="1.1"/>
<rect x="411.48" y="656.4" width="4" height="2.5" fill="#089981"/>
<line x1="418.74" y1="654.2" x2="418.74" y2="683.2" stroke="#F23645" stroke-width="1.1"/>
<rect x="416.74" y="655.7" width="4" height="15.2" fill="#F23645"/>
<line x1="424.01" y1="666.6" x2="424.01" y2="702.1" stroke="#F23645" stroke-width="1.1"/>
<rect x="422.01" y="669.5" width="4" height="29.0" fill="#F23645"/>
<line x1="429.27" y1="685.4" x2="429.27" y2="723.9" stroke="#F23645" stroke-width="1.1"/>
<rect x="427.27" y="697.0" width="4" height="10.2" fill="#F23645"/>
<line x1="434.53" y1="686.9" x2="434.53" y2="710.8" stroke="#089981" stroke-width="1.1"/>
<rect x="432.53" y="700.7" width="4" height="6.5" fill="#089981"/>
<line x1="439.79" y1="664.4" x2="439.79" y2="718.8" stroke="#089981" stroke-width="1.1"/>
<rect x="437.79" y="667.3" width="4" height="33.4" fill="#089981"/>
<line x1="445.05" y1="649.9" x2="445.05" y2="674.5" stroke="#089981" stroke-width="1.1"/>
<rect x="443.05" y="657.1" width="4" height="11.6" fill="#089981"/>
<line x1="450.32" y1="644.0" x2="450.32" y2="657.8" stroke="#089981" stroke-width="1.1"/>
<rect x="448.32" y="653.5" width="4" height="4.3" fill="#089981"/>
<line x1="455.58" y1="647.7" x2="455.58" y2="664.4" stroke="#089981" stroke-width="1.1"/>
<rect x="453.58" y="649.1" width="4" height="5.1" fill="#089981"/>
<line x1="460.84" y1="645.1" x2="460.84" y2="656.5" stroke="#F23645" stroke-width="1.1"/>
<rect x="458.84" y="649.5" width="4" height="3.8" fill="#F23645"/>
<line x1="466.10" y1="641.3" x2="466.10" y2="657.1" stroke="#089981" stroke-width="1.1"/>
<rect x="464.10" y="648.4" width="4" height="5.4" fill="#089981"/>
<line x1="471.36" y1="620.1" x2="471.36" y2="651.1" stroke="#089981" stroke-width="1.1"/>
<rect x="469.36" y="631.0" width="4" height="17.4" fill="#089981"/>
<line x1="476.63" y1="621.2" x2="476.63" y2="642.4" stroke="#089981" stroke-width="1.1"/>
<rect x="474.63" y="622.8" width="4" height="8.7" fill="#089981"/>
<line x1="481.89" y1="621.2" x2="481.89" y2="634.2" stroke="#F23645" stroke-width="1.1"/>
<rect x="479.89" y="623.3" width="4" height="5.5" fill="#F23645"/>
<line x1="487.15" y1="599.9" x2="487.15" y2="631.5" stroke="#089981" stroke-width="1.1"/>
<rect x="485.15" y="616.8" width="4" height="12.0" fill="#089981"/>
<line x1="492.41" y1="591.8" x2="492.41" y2="622.8" stroke="#F23645" stroke-width="1.1"/>
<rect x="490.41" y="616.8" width="4" height="3.8" fill="#F23645"/>
<line x1="497.67" y1="594.5" x2="497.67" y2="620.1" stroke="#089981" stroke-width="1.1"/>
<rect x="495.67" y="598.8" width="4" height="21.3" fill="#089981"/>
<line x1="502.94" y1="590.1" x2="502.94" y2="615.2" stroke="#F23645" stroke-width="1.1"/>
<rect x="500.94" y="598.8" width="4" height="14.2" fill="#F23645"/>
<line x1="508.20" y1="605.9" x2="508.20" y2="635.9" stroke="#F23645" stroke-width="1.1"/>
<rect x="506.20" y="613.0" width="4" height="21.2" fill="#F23645"/>
<line x1="513.46" y1="593.4" x2="513.46" y2="638.0" stroke="#089981" stroke-width="1.1"/>
<rect x="511.46" y="604.3" width="4" height="31.0" fill="#089981"/>
<line x1="518.72" y1="604.3" x2="518.72" y2="661.4" stroke="#F23645" stroke-width="1.1"/>
<rect x="516.72" y="604.8" width="4" height="51.7" fill="#F23645"/>
<line x1="523.98" y1="643.5" x2="523.98" y2="663.0" stroke="#F23645" stroke-width="1.1"/>
<rect x="521.98" y="656.0" width="4" height="4.9" fill="#F23645"/>
<line x1="529.25" y1="646.2" x2="529.25" y2="674.0" stroke="#089981" stroke-width="1.1"/>
<rect x="527.25" y="650.5" width="4" height="9.8" fill="#089981"/>
<line x1="534.51" y1="650.5" x2="534.51" y2="673.4" stroke="#F23645" stroke-width="1.1"/>
<rect x="532.51" y="651.1" width="4" height="22.3" fill="#F23645"/>
<line x1="539.77" y1="643.1" x2="539.77" y2="676.7" stroke="#089981" stroke-width="1.1"/>
<rect x="537.77" y="648.3" width="4" height="25.0" fill="#089981"/>
<line x1="545.03" y1="644.0" x2="545.03" y2="659.5" stroke="#F23645" stroke-width="1.1"/>
<rect x="543.03" y="648.3" width="4" height="3.4" fill="#F23645"/>
<line x1="550.29" y1="620.7" x2="550.29" y2="661.2" stroke="#089981" stroke-width="1.1"/>
<rect x="548.29" y="621.6" width="4" height="28.4" fill="#089981"/>
<line x1="555.56" y1="612.1" x2="555.56" y2="634.5" stroke="#089981" stroke-width="1.1"/>
<rect x="553.56" y="620.7" width="4" height="2.6" fill="#089981"/>
<line x1="560.82" y1="619.0" x2="560.82" y2="629.3" stroke="#F23645" stroke-width="1.1"/>
<rect x="558.82" y="620.7" width="4" height="2.6" fill="#F23645"/>
<line x1="566.08" y1="615.5" x2="566.08" y2="636.2" stroke="#F23645" stroke-width="1.1"/>
<rect x="564.08" y="622.4" width="4" height="12.9" fill="#F23645"/>
<line x1="571.34" y1="619.0" x2="571.34" y2="635.3" stroke="#089981" stroke-width="1.1"/>
<rect x="569.34" y="623.3" width="4" height="12.0" fill="#089981"/>
<line x1="576.60" y1="573.3" x2="576.60" y2="624.1" stroke="#089981" stroke-width="1.1"/>
<rect x="574.60" y="577.6" width="4" height="45.7" fill="#089981"/>
<line x1="581.87" y1="565.5" x2="581.87" y2="594.0" stroke="#F23645" stroke-width="1.1"/>
<rect x="579.87" y="577.6" width="4" height="7.7" fill="#F23645"/>
<line x1="587.13" y1="579.3" x2="587.13" y2="620.7" stroke="#089981" stroke-width="1.1"/>
<rect x="585.13" y="580.2" width="4" height="4.3" fill="#089981"/>
<line x1="592.39" y1="540.5" x2="592.39" y2="581.9" stroke="#089981" stroke-width="1.1"/>
<rect x="590.39" y="541.4" width="4" height="38.8" fill="#089981"/>
<line x1="597.65" y1="518.1" x2="597.65" y2="557.8" stroke="#089981" stroke-width="1.1"/>
<rect x="595.65" y="527.6" width="4" height="14.6" fill="#089981"/>
<line x1="602.91" y1="519.8" x2="602.91" y2="542.2" stroke="#089981" stroke-width="1.1"/>
<rect x="600.91" y="521.6" width="4" height="5.1" fill="#089981"/>
<line x1="608.18" y1="511.2" x2="608.18" y2="531.9" stroke="#089981" stroke-width="1.1"/>
<rect x="606.18" y="519.8" width="4" height="1.8" fill="#089981"/>
<line x1="613.44" y1="506.9" x2="613.44" y2="562.0" stroke="#F23645" stroke-width="1.1"/>
<rect x="611.44" y="519.8" width="4" height="33.4" fill="#F23645"/>
<line x1="618.70" y1="518.5" x2="618.70" y2="555.9" stroke="#089981" stroke-width="1.1"/>
<rect x="616.70" y="521.9" width="4" height="31.9" fill="#089981"/>
<line x1="623.96" y1="519.1" x2="623.96" y2="536.8" stroke="#F23645" stroke-width="1.1"/>
<rect x="621.96" y="520.5" width="4" height="15.7" fill="#F23645"/>
<line x1="629.22" y1="519.1" x2="629.22" y2="537.5" stroke="#089981" stroke-width="1.1"/>
<rect x="627.22" y="528.0" width="4" height="7.5" fill="#089981"/>
<line x1="634.49" y1="490.6" x2="634.49" y2="529.4" stroke="#089981" stroke-width="1.1"/>
<rect x="632.49" y="506.9" width="4" height="21.1" fill="#089981"/>
<line x1="639.75" y1="489.2" x2="639.75" y2="510.3" stroke="#F23645" stroke-width="1.1"/>
<rect x="637.75" y="506.9" width="4" height="1.0" fill="#F23645"/>
<line x1="645.01" y1="483.8" x2="645.01" y2="525.3" stroke="#F23645" stroke-width="1.1"/>
<rect x="643.01" y="507.6" width="4" height="2.7" fill="#F23645"/>
<line x1="650.27" y1="483.1" x2="650.27" y2="511.0" stroke="#089981" stroke-width="1.1"/>
<rect x="648.27" y="491.9" width="4" height="19.1" fill="#089981"/>
<line x1="655.53" y1="485.1" x2="655.53" y2="517.1" stroke="#F23645" stroke-width="1.1"/>
<rect x="653.53" y="492.6" width="4" height="23.1" fill="#F23645"/>
<line x1="660.80" y1="467.4" x2="660.80" y2="517.8" stroke="#089981" stroke-width="1.1"/>
<rect x="658.80" y="477.7" width="4" height="37.3" fill="#089981"/>
<line x1="666.06" y1="460.0" x2="666.06" y2="538.2" stroke="#F23645" stroke-width="1.1"/>
<rect x="664.06" y="477.7" width="4" height="52.3" fill="#F23645"/>
<line x1="671.32" y1="515.7" x2="671.32" y2="547.7" stroke="#F23645" stroke-width="1.1"/>
<rect x="669.32" y="530.0" width="4" height="8.2" fill="#F23645"/>
<line x1="676.58" y1="510.3" x2="676.58" y2="542.3" stroke="#089981" stroke-width="1.1"/>
<rect x="674.58" y="518.5" width="4" height="19.0" fill="#089981"/>
<line x1="681.84" y1="504.8" x2="681.84" y2="521.5" stroke="#089981" stroke-width="1.1"/>
<rect x="679.84" y="509.6" width="4" height="9.2" fill="#089981"/>
<line x1="687.11" y1="508.8" x2="687.11" y2="535.7" stroke="#F23645" stroke-width="1.1"/>
<rect x="685.11" y="509.6" width="4" height="8.2" fill="#F23645"/>
<line x1="692.37" y1="467.1" x2="692.37" y2="525.1" stroke="#089981" stroke-width="1.1"/>
<rect x="690.37" y="474.5" width="4" height="43.3" fill="#089981"/>
<line x1="697.63" y1="461.4" x2="697.63" y2="505.5" stroke="#F23645" stroke-width="1.1"/>
<rect x="695.63" y="474.5" width="4" height="28.6" fill="#F23645"/>
<line x1="702.89" y1="484.3" x2="702.89" y2="543.9" stroke="#F23645" stroke-width="1.1"/>
<rect x="700.89" y="503.9" width="4" height="32.6" fill="#F23645"/>
<line x1="708.15" y1="520.2" x2="708.15" y2="549.6" stroke="#089981" stroke-width="1.1"/>
<rect x="706.15" y="526.7" width="4" height="9.8" fill="#089981"/>
<line x1="713.42" y1="512.0" x2="713.42" y2="553.7" stroke="#F23645" stroke-width="1.1"/>
<rect x="711.42" y="526.7" width="4" height="18.8" fill="#F23645"/>
<line x1="718.68" y1="545.5" x2="718.68" y2="579.0" stroke="#F23645" stroke-width="1.1"/>
<rect x="716.68" y="546.3" width="4" height="21.3" fill="#F23645"/>
<line x1="723.94" y1="540.6" x2="723.94" y2="569.2" stroke="#089981" stroke-width="1.1"/>
<rect x="721.94" y="552.9" width="4" height="14.7" fill="#089981"/>
<line x1="729.20" y1="539.8" x2="729.20" y2="570.0" stroke="#089981" stroke-width="1.1"/>
<rect x="727.20" y="550.4" width="4" height="1.0" fill="#089981"/>
<line x1="734.46" y1="547.1" x2="734.46" y2="579.8" stroke="#F23645" stroke-width="1.1"/>
<rect x="732.46" y="552.0" width="4" height="11.5" fill="#F23645"/>
<line x1="739.73" y1="494.1" x2="739.73" y2="565.9" stroke="#089981" stroke-width="1.1"/>
<rect x="737.73" y="494.9" width="4" height="69.4" fill="#089981"/>
<line x1="744.99" y1="433.7" x2="744.99" y2="496.5" stroke="#089981" stroke-width="1.1"/>
<rect x="742.99" y="434.5" width="4" height="61.2" fill="#089981"/>
<line x1="750.25" y1="419.0" x2="750.25" y2="455.7" stroke="#F23645" stroke-width="1.1"/>
<rect x="748.25" y="435.3" width="4" height="13.1" fill="#F23645"/>
<line x1="755.51" y1="416.5" x2="755.51" y2="462.2" stroke="#089981" stroke-width="1.1"/>
<rect x="753.51" y="422.2" width="4" height="26.2" fill="#089981"/>
<line x1="760.77" y1="411.1" x2="760.77" y2="453.7" stroke="#089981" stroke-width="1.1"/>
<rect x="758.77" y="415.9" width="4" height="6.7" fill="#089981"/>
<line x1="766.04" y1="367.1" x2="766.04" y2="417.2" stroke="#089981" stroke-width="1.1"/>
<rect x="764.04" y="380.2" width="4" height="36.3" fill="#089981"/>
<line x1="771.30" y1="350.4" x2="771.30" y2="411.4" stroke="#F23645" stroke-width="1.1"/>
<rect x="769.30" y="380.2" width="4" height="12.3" fill="#F23645"/>
<line x1="776.56" y1="370.7" x2="776.56" y2="402.7" stroke="#089981" stroke-width="1.1"/>
<rect x="774.56" y="372.9" width="4" height="19.6" fill="#089981"/>
<line x1="781.82" y1="304.7" x2="781.82" y2="383.8" stroke="#089981" stroke-width="1.1"/>
<rect x="779.82" y="336.6" width="4" height="36.3" fill="#089981"/>
<line x1="787.08" y1="168.3" x2="787.08" y2="337.1" stroke="#089981" stroke-width="1.1"/>
<rect x="785.08" y="200.5" width="4" height="136.1" fill="#089981"/>
<line x1="792.35" y1="134.4" x2="792.35" y2="213.6" stroke="#089981" stroke-width="1.1"/>
<rect x="790.35" y="172.9" width="4" height="27.6" fill="#089981"/>
<line x1="797.61" y1="164.2" x2="797.61" y2="238.2" stroke="#F23645" stroke-width="1.1"/>
<rect x="795.61" y="172.9" width="4" height="61.0" fill="#F23645"/>
<line x1="802.87" y1="211.1" x2="802.87" y2="367.1" stroke="#F23645" stroke-width="1.1"/>
<rect x="800.87" y="233.9" width="4" height="65.7" fill="#F23645"/>
<line x1="808.13" y1="299.6" x2="808.13" y2="364.2" stroke="#F23645" stroke-width="1.1"/>
<rect x="806.13" y="300.2" width="4" height="42.9" fill="#F23645"/>
<line x1="813.39" y1="279.0" x2="813.39" y2="381.6" stroke="#089981" stroke-width="1.1"/>
<rect x="811.39" y="298.4" width="4" height="45.0" fill="#089981"/>
<line x1="818.66" y1="263.1" x2="818.66" y2="323.5" stroke="#089981" stroke-width="1.1"/>
<rect x="816.66" y="290.7" width="4" height="7.7" fill="#089981"/>
<line x1="823.92" y1="226.8" x2="823.92" y2="310.2" stroke="#089981" stroke-width="1.1"/>
<rect x="821.92" y="252.9" width="4" height="37.8" fill="#089981"/>
<line x1="829.18" y1="230.4" x2="829.18" y2="276.5" stroke="#F23645" stroke-width="1.1"/>
<rect x="827.18" y="253.6" width="4" height="15.4" fill="#F23645"/>
<line x1="834.44" y1="240.2" x2="834.44" y2="317.6" stroke="#F23645" stroke-width="1.1"/>
<rect x="832.44" y="269.0" width="4" height="32.6" fill="#F23645"/>
<line x1="839.70" y1="254.6" x2="839.70" y2="324.1" stroke="#089981" stroke-width="1.1"/>
<rect x="837.70" y="290.7" width="4" height="11.5" fill="#089981"/>
<line x1="844.97" y1="232.1" x2="844.97" y2="296.6" stroke="#089981" stroke-width="1.1"/>
<rect x="842.97" y="263.8" width="4" height="26.9" fill="#089981"/>
<line x1="850.23" y1="206.7" x2="850.23" y2="266.7" stroke="#089981" stroke-width="1.1"/>
<rect x="848.23" y="241.3" width="4" height="22.8" fill="#089981"/>
<line x1="855.49" y1="220.3" x2="855.49" y2="269.0" stroke="#089981" stroke-width="1.1"/>
<rect x="853.49" y="231.8" width="4" height="9.5" fill="#089981"/>
<line x1="860.75" y1="230.5" x2="860.75" y2="340.1" stroke="#F23645" stroke-width="1.1"/>
<rect x="858.75" y="231.8" width="4" height="105.4" fill="#F23645"/>
<line x1="866.01" y1="309.6" x2="866.01" y2="337.9" stroke="#089981" stroke-width="1.1"/>
<rect x="864.01" y="326.3" width="4" height="10.9" fill="#089981"/>
<line x1="871.28" y1="301.6" x2="871.28" y2="327.8" stroke="#089981" stroke-width="1.1"/>
<rect x="869.28" y="314.0" width="4" height="12.3" fill="#089981"/>
<line x1="876.54" y1="302.5" x2="876.54" y2="317.8" stroke="#089981" stroke-width="1.1"/>
<rect x="874.54" y="306.6" width="4" height="7.4" fill="#089981"/>
<line x1="881.80" y1="266.6" x2="881.80" y2="335.2" stroke="#089981" stroke-width="1.1"/>
<rect x="879.80" y="277.2" width="4" height="29.4" fill="#089981"/>
<line x1="887.06" y1="238.1" x2="887.06" y2="278.1" stroke="#089981" stroke-width="1.1"/>
<rect x="885.06" y="238.9" width="4" height="38.3" fill="#089981"/>
<line x1="892.32" y1="190.7" x2="892.32" y2="256.0" stroke="#089981" stroke-width="1.1"/>
<rect x="890.32" y="216.8" width="4" height="22.1" fill="#089981"/>
<line x1="897.59" y1="203.8" x2="897.59" y2="236.4" stroke="#089981" stroke-width="1.1"/>
<rect x="895.59" y="210.3" width="4" height="6.5" fill="#089981"/>
<line x1="902.85" y1="209.5" x2="902.85" y2="266.6" stroke="#F23645" stroke-width="1.1"/>
<rect x="900.85" y="210.3" width="4" height="43.3" fill="#F23645"/>
<line x1="908.11" y1="223.4" x2="908.11" y2="256.0" stroke="#089981" stroke-width="1.1"/>
<rect x="906.11" y="237.2" width="4" height="16.4" fill="#089981"/>
<line x1="913.37" y1="223.4" x2="913.37" y2="318.9" stroke="#F23645" stroke-width="1.1"/>
<rect x="911.37" y="236.4" width="4" height="69.4" fill="#F23645"/>
<line x1="918.63" y1="293.6" x2="918.63" y2="331.1" stroke="#F23645" stroke-width="1.1"/>
<rect x="916.63" y="305.8" width="4" height="9.0" fill="#F23645"/>
<line x1="923.90" y1="300.9" x2="923.90" y2="357.2" stroke="#F23645" stroke-width="1.1"/>
<rect x="921.90" y="314.8" width="4" height="33.5" fill="#F23645"/>
<line x1="929.16" y1="312.3" x2="929.16" y2="357.2" stroke="#089981" stroke-width="1.1"/>
<rect x="927.16" y="312.3" width="4" height="36.0" fill="#089981"/>
<line x1="934.42" y1="282.1" x2="934.42" y2="336.8" stroke="#089981" stroke-width="1.1"/>
<rect x="932.42" y="309.9" width="4" height="2.4" fill="#089981"/>
<line x1="939.68" y1="286.2" x2="939.68" y2="327.0" stroke="#089981" stroke-width="1.1"/>
<rect x="937.68" y="302.6" width="4" height="7.3" fill="#089981"/>
<line x1="944.94" y1="270.7" x2="944.94" y2="345.0" stroke="#F23645" stroke-width="1.1"/>
<rect x="942.94" y="302.6" width="4" height="35.9" fill="#F23645"/>
<line x1="950.21" y1="287.9" x2="950.21" y2="351.6" stroke="#089981" stroke-width="1.1"/>
<rect x="948.21" y="293.6" width="4" height="45.7" fill="#089981"/>
<line x1="955.47" y1="250.7" x2="955.47" y2="314.5" stroke="#089981" stroke-width="1.1"/>
<rect x="953.47" y="288.8" width="4" height="4.8" fill="#089981"/>
<line x1="960.73" y1="283.1" x2="960.73" y2="404.0" stroke="#F23645" stroke-width="1.1"/>
<rect x="958.73" y="288.8" width="4" height="105.7" fill="#F23645"/>
<line x1="965.99" y1="389.8" x2="965.99" y2="430.7" stroke="#F23645" stroke-width="1.1"/>
<rect x="963.99" y="395.5" width="4" height="28.5" fill="#F23645"/>
<line x1="971.25" y1="407.9" x2="971.25" y2="443.1" stroke="#F23645" stroke-width="1.1"/>
<rect x="969.25" y="425.0" width="4" height="13.3" fill="#F23645"/>
<line x1="976.52" y1="421.2" x2="976.52" y2="445.0" stroke="#089981" stroke-width="1.1"/>
<rect x="974.52" y="434.5" width="4" height="4.8" fill="#089981"/>
<line x1="981.78" y1="422.1" x2="981.78" y2="436.4" stroke="#F23645" stroke-width="1.1"/>
<rect x="979.78" y="433.6" width="4" height="1.9" fill="#F23645"/>
<line x1="987.04" y1="406.0" x2="987.04" y2="453.6" stroke="#089981" stroke-width="1.1"/>
<rect x="985.04" y="433.6" width="4" height="1.9" fill="#089981"/>
<line x1="992.30" y1="370.7" x2="992.30" y2="450.7" stroke="#089981" stroke-width="1.1"/>
<rect x="990.30" y="395.5" width="4" height="37.1" fill="#089981"/>
<line x1="997.56" y1="357.4" x2="997.56" y2="399.3" stroke="#089981" stroke-width="1.1"/>
<rect x="995.56" y="360.2" width="4" height="34.3" fill="#089981"/>
<line x1="1002.83" y1="359.3" x2="1002.83" y2="382.1" stroke="#F23645" stroke-width="1.1"/>
<rect x="1000.83" y="360.2" width="4" height="17.2" fill="#F23645"/>
<line x1="1008.09" y1="358.3" x2="1008.09" y2="397.4" stroke="#089981" stroke-width="1.1"/>
<rect x="1006.09" y="369.8" width="4" height="8.5" fill="#089981"/>
<line x1="1013.35" y1="368.8" x2="1013.35" y2="399.3" stroke="#F23645" stroke-width="1.1"/>
<rect x="1011.35" y="370.7" width="4" height="17.2" fill="#F23645"/>
<line x1="1018.61" y1="381.2" x2="1018.61" y2="406.9" stroke="#F23645" stroke-width="1.1"/>
<rect x="1016.61" y="386.9" width="4" height="16.2" fill="#F23645"/>
<line x1="1023.87" y1="381.1" x2="1023.87" y2="418.7" stroke="#F23645" stroke-width="1.1"/>
<rect x="1021.87" y="403.1" width="4" height="14.6" fill="#F23645"/>
<line x1="1029.14" y1="400.0" x2="1029.14" y2="431.3" stroke="#F23645" stroke-width="1.1"/>
<rect x="1027.14" y="416.7" width="4" height="11.4" fill="#F23645"/>
<line x1="1034.40" y1="408.3" x2="1034.40" y2="438.6" stroke="#F23645" stroke-width="1.1"/>
<rect x="1032.40" y="427.1" width="4" height="3.1" fill="#F23645"/>
<line x1="1039.66" y1="403.1" x2="1039.66" y2="442.8" stroke="#F23645" stroke-width="1.1"/>
<rect x="1037.66" y="428.1" width="4" height="2.1" fill="#F23645"/>
<line x1="1044.92" y1="410.4" x2="1044.92" y2="435.5" stroke="#089981" stroke-width="1.1"/>
<rect x="1042.92" y="420.8" width="4" height="10.5" fill="#089981"/>
<line x1="1050.18" y1="408.3" x2="1050.18" y2="461.6" stroke="#F23645" stroke-width="1.1"/>
<rect x="1048.18" y="420.8" width="4" height="39.7" fill="#F23645"/>
<line x1="1055.45" y1="314.3" x2="1055.45" y2="481.4" stroke="#089981" stroke-width="1.1"/>
<rect x="1053.45" y="336.2" width="4" height="124.3" fill="#089981"/>
<line x1="1060.71" y1="273.6" x2="1060.71" y2="336.2" stroke="#089981" stroke-width="1.1"/>
<rect x="1058.71" y="289.2" width="4" height="47.0" fill="#089981"/>
<line x1="1065.97" y1="271.5" x2="1065.97" y2="298.6" stroke="#F23645" stroke-width="1.1"/>
<rect x="1063.97" y="288.2" width="4" height="2.1" fill="#F23645"/>
<line x1="1071.23" y1="287.2" x2="1071.23" y2="360.3" stroke="#F23645" stroke-width="1.1"/>
<rect x="1069.23" y="289.2" width="4" height="54.3" fill="#F23645"/>
<line x1="1076.49" y1="276.7" x2="1076.49" y2="343.5" stroke="#089981" stroke-width="1.1"/>
<rect x="1074.49" y="298.6" width="4" height="44.9" fill="#089981"/>
<line x1="1081.76" y1="293.4" x2="1081.76" y2="325.8" stroke="#F23645" stroke-width="1.1"/>
<rect x="1079.76" y="298.6" width="4" height="18.8" fill="#F23645"/>
<line x1="1087.02" y1="307.0" x2="1087.02" y2="330.0" stroke="#F23645" stroke-width="1.1"/>
<rect x="1085.02" y="316.4" width="4" height="1.0" fill="#F23645"/>
<line x1="1092.28" y1="316.6" x2="1092.28" y2="330.2" stroke="#F23645" stroke-width="1.1"/>
<rect x="1090.28" y="317.9" width="4" height="3.4" fill="#F23645"/>
<line x1="1097.54" y1="314.5" x2="1097.54" y2="333.8" stroke="#089981" stroke-width="1.1"/>
<rect x="1095.54" y="320.2" width="4" height="1.1" fill="#089981"/>
<line x1="1102.80" y1="306.6" x2="1102.80" y2="327.0" stroke="#089981" stroke-width="1.1"/>
<rect x="1100.80" y="316.8" width="4" height="2.2" fill="#089981"/>
<line x1="1108.07" y1="311.1" x2="1108.07" y2="339.4" stroke="#F23645" stroke-width="1.1"/>
<rect x="1106.07" y="317.9" width="4" height="20.4" fill="#F23645"/>
<line x1="1113.33" y1="328.1" x2="1113.33" y2="364.4" stroke="#F23645" stroke-width="1.1"/>
<rect x="1111.33" y="337.2" width="4" height="20.4" fill="#F23645"/>
<line x1="1118.59" y1="330.4" x2="1118.59" y2="358.7" stroke="#089981" stroke-width="1.1"/>
<rect x="1116.59" y="346.2" width="4" height="11.4" fill="#089981"/>
<line x1="1123.85" y1="232.9" x2="1123.85" y2="350.8" stroke="#089981" stroke-width="1.1"/>
<rect x="1121.85" y="305.5" width="4" height="40.7" fill="#089981"/>
<line x1="1129.11" y1="293.0" x2="1129.11" y2="347.4" stroke="#F23645" stroke-width="1.1"/>
<rect x="1127.11" y="304.3" width="4" height="23.8" fill="#F23645"/>
<line x1="1134.38" y1="273.7" x2="1134.38" y2="365.5" stroke="#089981" stroke-width="1.1"/>
<rect x="1132.38" y="312.3" width="4" height="15.8" fill="#089981"/>
<line x1="1139.64" y1="305.5" x2="1139.64" y2="396.1" stroke="#F23645" stroke-width="1.1"/>
<rect x="1137.64" y="311.1" width="4" height="81.6" fill="#F23645"/>
<line x1="1144.90" y1="387.0" x2="1144.90" y2="422.2" stroke="#F23645" stroke-width="1.1"/>
<rect x="1142.90" y="392.7" width="4" height="10.2" fill="#F23645"/>
<line x1="1150.16" y1="384.8" x2="1150.16" y2="423.3" stroke="#F23645" stroke-width="1.1"/>
<rect x="1148.16" y="402.9" width="4" height="2.3" fill="#F23645"/>
<line x1="1155.42" y1="380.2" x2="1155.42" y2="432.4" stroke="#F23645" stroke-width="1.1"/>
<rect x="1153.42" y="406.3" width="4" height="26.1" fill="#F23645"/>
<line x1="1160.69" y1="423.3" x2="1160.69" y2="466.4" stroke="#F23645" stroke-width="1.1"/>
<rect x="1158.69" y="432.4" width="4" height="21.5" fill="#F23645"/>
<line x1="1165.95" y1="439.6" x2="1165.95" y2="472.1" stroke="#F23645" stroke-width="1.1"/>
<rect x="1163.95" y="454.6" width="4" height="1.7" fill="#F23645"/>
<line x1="1171.21" y1="432.4" x2="1171.21" y2="457.4" stroke="#089981" stroke-width="1.1"/>
<rect x="1169.21" y="448.7" width="4" height="8.2" fill="#089981"/>
<line x1="1176.47" y1="436.7" x2="1176.47" y2="457.4" stroke="#F23645" stroke-width="1.1"/>
<rect x="1174.47" y="449.3" width="4" height="3.2" fill="#F23645"/>
<line x1="1181.73" y1="416.1" x2="1181.73" y2="463.4" stroke="#089981" stroke-width="1.1"/>
<rect x="1179.73" y="434.0" width="4" height="18.5" fill="#089981"/>
<line x1="1187.00" y1="389.4" x2="1187.00" y2="435.1" stroke="#089981" stroke-width="1.1"/>
<rect x="1185.00" y="390.5" width="4" height="44.1" fill="#089981"/>
<line x1="1192.26" y1="389.4" x2="1192.26" y2="409.0" stroke="#F23645" stroke-width="1.1"/>
<rect x="1190.26" y="391.0" width="4" height="13.1" fill="#F23645"/>
<line x1="1197.52" y1="389.9" x2="1197.52" y2="419.9" stroke="#089981" stroke-width="1.1"/>
<rect x="1195.52" y="398.6" width="4" height="4.9" fill="#089981"/>
<line x1="1202.78" y1="385.6" x2="1202.78" y2="426.4" stroke="#F23645" stroke-width="1.1"/>
<rect x="1200.78" y="397.6" width="4" height="24.4" fill="#F23645"/>
<line x1="1208.04" y1="402.4" x2="1208.04" y2="425.8" stroke="#089981" stroke-width="1.1"/>
<rect x="1206.04" y="407.9" width="4" height="14.1" fill="#089981"/>
<line x1="1213.31" y1="382.3" x2="1213.31" y2="422.0" stroke="#089981" stroke-width="1.1"/>
<rect x="1211.31" y="392.7" width="4" height="15.2" fill="#089981"/>
<line x1="1218.57" y1="387.2" x2="1218.57" y2="418.8" stroke="#F23645" stroke-width="1.1"/>
<rect x="1216.57" y="392.7" width="4" height="17.4" fill="#F23645"/>
<line x1="1223.83" y1="392.1" x2="1223.83" y2="437.3" stroke="#F23645" stroke-width="1.1"/>
<rect x="1221.83" y="409.5" width="4" height="22.3" fill="#F23645"/>
<line x1="1229.09" y1="412.8" x2="1229.09" y2="442.7" stroke="#089981" stroke-width="1.1"/>
<rect x="1227.09" y="416.6" width="4" height="15.2" fill="#089981"/>
<line x1="1234.35" y1="391.0" x2="1234.35" y2="419.3" stroke="#089981" stroke-width="1.1"/>
<rect x="1232.35" y="391.6" width="4" height="25.5" fill="#089981"/>
<line x1="1239.62" y1="380.0" x2="1239.62" y2="408.8" stroke="#F23645" stroke-width="1.1"/>
<rect x="1237.62" y="392.1" width="4" height="8.9" fill="#F23645"/>
<line x1="1244.88" y1="390.8" x2="1244.88" y2="423.8" stroke="#F23645" stroke-width="1.1"/>
<rect x="1242.88" y="401.0" width="4" height="15.8" fill="#F23645"/>
<line x1="1250.14" y1="406.0" x2="1250.14" y2="444.1" stroke="#F23645" stroke-width="1.1"/>
<rect x="1248.14" y="416.2" width="4" height="27.9" fill="#F23645"/>
<line x1="1255.40" y1="409.8" x2="1255.40" y2="446.0" stroke="#089981" stroke-width="1.1"/>
<rect x="1253.40" y="419.4" width="4" height="24.1" fill="#089981"/>
<line x1="1260.66" y1="403.5" x2="1260.66" y2="450.5" stroke="#F23645" stroke-width="1.1"/>
<rect x="1258.66" y="418.7" width="4" height="8.9" fill="#F23645"/>
<line x1="1265.93" y1="424.4" x2="1265.93" y2="474.0" stroke="#F23645" stroke-width="1.1"/>
<rect x="1263.93" y="428.3" width="4" height="43.8" fill="#F23645"/>
<line x1="1271.19" y1="467.0" x2="1271.19" y2="492.4" stroke="#F23645" stroke-width="1.1"/>
<rect x="1269.19" y="472.1" width="4" height="6.3" fill="#F23645"/>
<line x1="1276.45" y1="434.6" x2="1276.45" y2="492.4" stroke="#089981" stroke-width="1.1"/>
<rect x="1274.45" y="475.9" width="4" height="2.5" fill="#089981"/>
<line x1="1281.71" y1="474.6" x2="1281.71" y2="498.7" stroke="#F23645" stroke-width="1.1"/>
<rect x="1279.71" y="475.9" width="4" height="7.6" fill="#F23645"/>
<line x1="1286.97" y1="468.3" x2="1286.97" y2="502.5" stroke="#089981" stroke-width="1.1"/>
<rect x="1284.97" y="473.3" width="4" height="10.2" fill="#089981"/>
<line x1="1292.24" y1="457.5" x2="1292.24" y2="496.2" stroke="#089981" stroke-width="1.1"/>
<rect x="1290.24" y="460.0" width="4" height="13.3" fill="#089981"/>
<line x1="1297.50" y1="442.9" x2="1297.50" y2="464.4" stroke="#089981" stroke-width="1.1"/>
<rect x="1295.50" y="455.6" width="4" height="4.4" fill="#089981"/>
<line x1="1302.76" y1="453.1" x2="1302.76" y2="475.3" stroke="#F23645" stroke-width="1.1"/>
<rect x="1300.76" y="455.5" width="4" height="16.6" fill="#F23645"/>
<line x1="1308.02" y1="471.9" x2="1308.02" y2="509.6" stroke="#F23645" stroke-width="1.1"/>
<rect x="1306.02" y="472.4" width="4" height="6.2" fill="#F23645"/>
<line x1="1313.28" y1="478.0" x2="1313.28" y2="492.9" stroke="#F23645" stroke-width="1.1"/>
<rect x="1311.28" y="478.9" width="4" height="5.9" fill="#F23645"/>
<line x1="1318.55" y1="478.2" x2="1318.55" y2="491.3" stroke="#089981" stroke-width="1.1"/>
<rect x="1316.55" y="481.5" width="4" height="3.3" fill="#089981"/>
<line x1="1323.81" y1="454.3" x2="1323.81" y2="481.0" stroke="#089981" stroke-width="1.1"/>
<rect x="1321.81" y="454.8" width="4" height="26.2" fill="#089981"/>
<line x1="1329.07" y1="454.8" x2="1329.07" y2="475.0" stroke="#F23645" stroke-width="1.1"/>
<rect x="1327.07" y="455.4" width="4" height="17.9" fill="#F23645"/>
<line x1="1334.33" y1="464.1" x2="1334.33" y2="489.1" stroke="#F23645" stroke-width="1.1"/>
<rect x="1332.33" y="473.9" width="4" height="3.8" fill="#F23645"/>
<line x1="1339.59" y1="471.7" x2="1339.59" y2="490.2" stroke="#089981" stroke-width="1.1"/>
<rect x="1337.59" y="473.3" width="4" height="4.4" fill="#089981"/>
<line x1="1344.86" y1="470.6" x2="1344.86" y2="483.7" stroke="#F23645" stroke-width="1.1"/>
<rect x="1342.86" y="473.3" width="4" height="9.3" fill="#F23645"/>
<line x1="1350.12" y1="470.1" x2="1350.12" y2="503.3" stroke="#F23645" stroke-width="1.1"/>
<rect x="1348.12" y="482.0" width="4" height="18.5" fill="#F23645"/>
<line x1="1355.38" y1="495.1" x2="1355.38" y2="519.0" stroke="#F23645" stroke-width="1.1"/>
<rect x="1353.38" y="500.5" width="4" height="3.9" fill="#F23645"/>
<line x1="1360.64" y1="449.4" x2="1360.64" y2="529.4" stroke="#089981" stroke-width="1.1"/>
<rect x="1358.64" y="453.2" width="4" height="51.2" fill="#089981"/>
<line x1="1365.90" y1="441.8" x2="1365.90" y2="482.0" stroke="#F23645" stroke-width="1.1"/>
<rect x="1363.90" y="452.7" width="4" height="19.2" fill="#F23645"/>
<line x1="792.6" y1="134.4" x2="1505.5" y2="349.2" stroke="#DB1E5E" stroke-width="1.5"/>
<line x1="792.6" y1="402.8" x2="1505.5" y2="617.6" stroke="#DB1E5E" stroke-width="1.5"/>
<line x1="792.6" y1="268.6" x2="1505.5" y2="483.4" stroke="#D22C60" stroke-width="1.5" stroke-dasharray="5.8 8.4" stroke-dashoffset="0"/>
</g>
<text x="24.5" y="63" font-size="16" fill="#131722" letter-spacing="0.18">Cardano / US Dollar · 4h · COINBASE</text>
<text x="312" y="63" font-size="16" fill="#131722" letter-spacing="0">O</text>
<text x="324" y="63" font-size="16" fill="#F23645" letter-spacing="1.15">0.8383</text>
<text x="387.7" y="63" font-size="16" fill="#131722" letter-spacing="0">H</text>
<text x="399.8" y="63" font-size="16" fill="#F23645" letter-spacing="1.15">0.8451</text>
<text x="461.1" y="63" font-size="16" fill="#131722" letter-spacing="0">L</text>
<text x="470.1" y="63" font-size="16" fill="#F23645" letter-spacing="1.15">0.8214</text>
<text x="530.6" y="63" font-size="16" fill="#131722" letter-spacing="0">C</text>
<text x="542.4" y="63" font-size="16" fill="#F23645" letter-spacing="1.15">0.8274</text>
<text x="604.3" y="63" font-size="16" fill="#F23645" letter-spacing="0.22">−0.0107 (−1.28%)</text>
<text x="24" y="85.5" font-size="16" fill="#131722" letter-spacing="0.72">EMA 20/50/100/200</text>
<text x="185" y="85.5" font-size="16" fill="#FF0000" letter-spacing="1.15">0.8299</text>
<text x="248.5" y="85.5" font-size="16" fill="#FF9800" letter-spacing="1.15">0.8463</text>
<text x="312.5" y="85.5" font-size="16" fill="#00E5FF" letter-spacing="1.15">0.8540</text>
<text x="376" y="85.5" font-size="16" fill="#0000FF" letter-spacing="1.15">0.8369</text>
<text x="1519" y="87.0" font-size="16.5" fill="#131722" letter-spacing="0.85">1.0500</text>
<text x="1519" y="174.8" font-size="16.5" fill="#131722" letter-spacing="0.85">1.0000</text>
<text x="1519" y="262.6" font-size="16.5" fill="#131722" letter-spacing="0.85">0.9500</text>
<text x="1519" y="350.3" font-size="16.5" fill="#131722" letter-spacing="0.85">0.9000</text>
<text x="1519" y="525.8" font-size="16.5" fill="#131722" letter-spacing="0.85">0.8000</text>
<text x="1519" y="613.5" font-size="16.5" fill="#131722" letter-spacing="0.85">0.7500</text>
<text x="1519" y="701.3" font-size="16.5" fill="#131722" letter-spacing="0.85">0.7000</text>
<text x="1519" y="789.0" font-size="16.5" fill="#131722" letter-spacing="0.85">0.6500</text>
<path d="M1507 369.5 H1578.5 Q1581 369.5 1581 372.0 V388.5 Q1581 391 1578.5 391 H1507 Z" fill="#00FFFF"/>
<text x="1519" y="386.4" font-size="16.5" fill="#131722" letter-spacing="0.85">0.8540</text>
<path d="M1507 392.4 H1578.5 Q1581 392.4 1581 394.9 V411.3 Q1581 413.8 1578.5 413.8 H1507 Z" fill="#F57C00"/>
<text x="1519" y="409.2" font-size="16.5" fill="#fff" letter-spacing="0.85">0.8463</text>
<path d="M1507 415.1 H1578.5 Q1581 415.1 1581 417.6 V434.8 Q1581 437.3 1578.5 437.3 H1507 Z" fill="#0000EE"/>
<text x="1519" y="432.3" font-size="16.5" fill="#fff" letter-spacing="0.85">0.8369</text>
<path d="M1507 438.7 H1578.5 Q1581 438.7 1581 441.2 V457.6 Q1581 460.1 1578.5 460.1 H1507 Z" fill="#FF0000"/>
<text x="1519" y="455.5" font-size="16.5" fill="#fff" letter-spacing="0.85">0.8299</text>
<path d="M1507 460.8 H1578.5 Q1581 460.8 1581 463.3 V499.1 Q1581 501.6 1578.5 501.6 H1507 Z" fill="#F23645"/>
<text x="1519" y="478" font-size="16.5" fill="#fff" letter-spacing="0.85">0.8274</text>
<text x="1519" y="496.5" font-size="16.5" fill="#fff" letter-spacing="0.85">41:36</text>
<rect x="14" y="858.25" width="1491.5" height="102.0" fill="#7E57C2" opacity="0.1"/>
<line x1="14" y1="858.25" x2="1505.5" y2="858.25" stroke="#787B86" stroke-width="1.4" stroke-dasharray="5.6 9.15" opacity="1"/>
<line x1="14" y1="909.25" x2="1505.5" y2="909.25" stroke="#787B86" stroke-width="1.4" stroke-dasharray="5.6 9.15" opacity="0.55"/>
<line x1="14" y1="960.25" x2="1505.5" y2="960.25" stroke="#787B86" stroke-width="1.4" stroke-dasharray="5.6 9.15" opacity="1"/>
<defs><linearGradient id="ob" gradientUnits="userSpaceOnUse" x1="0" y1="781.75" x2="0" y2="858.25"><stop offset="0" stop-color="#22bb44" stop-opacity="0.75"/><stop offset="1" stop-color="#22bb44" stop-opacity="0"/></linearGradient>
<linearGradient id="os" gradientUnits="userSpaceOnUse" x1="0" y1="960.25" x2="0" y2="1036.75"><stop offset="0" stop-color="#ff0000" stop-opacity="0"/><stop offset="1" stop-color="#ff0000" stop-opacity="1"/></linearGradient>
<clipPath id="above70"><rect x="14" y="809" width="1491.5" height="49.25"/></clipPath><clipPath id="below30"><rect x="14" y="960.25" width="1491.5" height="60"/></clipPath></defs>
<g clip-path="url(#above70)"><polygon points="13.6,858.25 13.6,852.41 18.8,852.58 24.1,871.01 29.4,865.89 34.6,849.46 39.9,842.90 45.1,841.36 50.4,882.34 55.7,874.90 60.9,877.58 66.2,892.72 71.5,887.62 76.7,886.00 82.0,889.57 87.2,871.61 92.5,894.15 97.8,904.80 103.0,908.93 108.3,928.68 113.5,941.02 118.8,938.62 124.1,937.71 129.3,952.84 134.6,929.39 139.9,923.62 145.1,927.79 150.4,934.30 155.6,940.46 160.9,940.63 166.2,926.18 171.4,942.28 176.7,933.33 182.0,915.49 187.2,908.85 192.5,913.26 197.7,909.53 203.0,902.50 208.3,905.48 213.5,913.85 218.8,906.04 224.0,910.26 229.3,910.26 234.6,911.53 239.8,909.26 245.1,901.40 250.4,892.28 255.6,896.76 260.9,907.18 266.1,930.28 271.4,936.95 276.7,940.61 281.9,938.57 287.2,921.07 292.5,932.25 297.7,943.90 303.0,946.86 308.2,939.42 313.5,935.29 318.8,940.99 324.0,957.50 329.3,935.47 334.6,944.93 339.8,941.24 345.1,922.82 350.3,919.57 355.6,923.75 360.9,937.27 366.1,944.71 371.4,952.78 376.6,955.67 381.9,961.81 387.2,957.92 392.4,949.26 397.7,951.37 403.0,962.38 408.2,951.80 413.5,950.00 418.7,956.05 424.0,966.15 429.3,969.03 434.5,963.08 439.8,935.99 445.1,928.76 450.3,926.19 455.6,922.94 460.8,925.52 466.1,921.54 471.4,908.19 476.6,902.34 481.9,907.07 487.1,898.24 492.4,901.49 497.7,886.34 502.9,898.60 508.2,914.61 513.5,894.73 518.7,925.91 524.0,928.08 529.2,921.15 534.5,932.82 539.8,916.73 545.0,918.57 550.3,901.14 555.6,900.66 560.8,902.36 566.1,910.25 571.3,902.61 576.6,878.92 581.9,884.34 587.1,881.89 592.4,865.48 597.7,860.54 602.9,858.42 608.2,857.76 613.4,884.05 618.7,870.84 624.0,880.75 629.2,877.23 634.5,868.66 639.7,869.43 645.0,871.38 650.3,863.52 655.5,882.38 660.8,866.51 666.1,898.76 671.3,903.04 676.6,894.03 681.8,890.12 687.1,895.02 692.4,876.93 697.6,893.24 702.9,909.56 708.2,905.12 713.4,913.93 718.7,923.51 723.9,916.01 729.2,914.72 734.5,920.99 739.7,889.69 745.0,870.73 750.2,877.66 755.5,870.17 760.8,868.41 766.0,859.06 771.3,865.90 776.6,860.69 781.8,852.01 787.1,830.40 792.3,827.34 797.6,854.62 802.9,878.53 808.1,892.07 813.4,882.53 818.7,880.94 823.9,873.29 829.2,878.87 834.4,889.81 839.7,887.18 845.0,880.77 850.2,875.64 855.5,873.47 860.8,908.74 866.0,905.75 871.3,902.31 876.5,900.18 881.8,891.86 887.1,881.98 892.3,876.69 897.6,875.12 902.8,892.19 908.1,887.63 913.4,911.01 918.6,913.74 923.9,923.57 929.2,911.56 934.4,910.78 939.7,908.27 944.9,920.25 950.2,904.80 955.5,903.24 960.7,934.10 966.0,940.77 971.3,943.92 976.5,942.41 981.8,942.66 987.0,941.80 992.3,925.22 997.6,911.79 1002.8,917.64 1008.1,914.68 1013.3,921.14 1018.6,926.43 1023.9,931.41 1029.1,934.93 1034.4,935.67 1039.7,935.67 1044.9,930.10 1050.2,945.17 1055.4,892.45 1060.7,879.60 1066.0,880.05 1071.2,900.73 1076.5,887.99 1081.8,894.84 1087.0,894.84 1092.3,896.39 1097.5,896.01 1102.8,894.77 1108.1,904.60 1113.3,912.89 1118.6,907.85 1123.9,891.64 1129.1,902.00 1134.4,895.87 1139.6,926.65 1144.9,929.84 1150.2,930.58 1155.4,939.26 1160.7,945.60 1165.9,946.31 1171.2,942.07 1176.5,943.37 1181.7,932.54 1187.0,910.68 1192.3,916.54 1197.5,913.87 1202.8,924.12 1208.0,916.81 1213.3,909.21 1218.6,917.48 1223.8,927.04 1229.1,918.76 1234.4,906.19 1239.6,910.87 1244.9,918.53 1250.1,930.56 1255.4,917.14 1260.7,920.87 1265.9,938.76 1271.2,941.02 1276.4,939.47 1281.7,942.47 1287.0,935.60 1292.2,926.90 1297.5,924.03 1302.8,932.36 1308.0,935.53 1313.3,938.60 1318.5,935.92 1323.8,915.97 1329.1,926.60 1334.3,929.04 1339.6,925.62 1344.9,931.19 1350.1,941.14 1355.4,943.21 1360.6,905.40 1365.9,916.48 1365.9,858.25" fill="url(#ob)"/></g>
<g clip-path="url(#below30)"><polygon points="13.6,960.25 13.6,852.41 18.8,852.58 24.1,871.01 29.4,865.89 34.6,849.46 39.9,842.90 45.1,841.36 50.4,882.34 55.7,874.90 60.9,877.58 66.2,892.72 71.5,887.62 76.7,886.00 82.0,889.57 87.2,871.61 92.5,894.15 97.8,904.80 103.0,908.93 108.3,928.68 113.5,941.02 118.8,938.62 124.1,937.71 129.3,952.84 134.6,929.39 139.9,923.62 145.1,927.79 150.4,934.30 155.6,940.46 160.9,940.63 166.2,926.18 171.4,942.28 176.7,933.33 182.0,915.49 187.2,908.85 192.5,913.26 197.7,909.53 203.0,902.50 208.3,905.48 213.5,913.85 218.8,906.04 224.0,910.26 229.3,910.26 234.6,911.53 239.8,909.26 245.1,901.40 250.4,892.28 255.6,896.76 260.9,907.18 266.1,930.28 271.4,936.95 276.7,940.61 281.9,938.57 287.2,921.07 292.5,932.25 297.7,943.90 303.0,946.86 308.2,939.42 313.5,935.29 318.8,940.99 324.0,957.50 329.3,935.47 334.6,944.93 339.8,941.24 345.1,922.82 350.3,919.57 355.6,923.75 360.9,937.27 366.1,944.71 371.4,952.78 376.6,955.67 381.9,961.81 387.2,957.92 392.4,949.26 397.7,951.37 403.0,962.38 408.2,951.80 413.5,950.00 418.7,956.05 424.0,966.15 429.3,969.03 434.5,963.08 439.8,935.99 445.1,928.76 450.3,926.19 455.6,922.94 460.8,925.52 466.1,921.54 471.4,908.19 476.6,902.34 481.9,907.07 487.1,898.24 492.4,901.49 497.7,886.34 502.9,898.60 508.2,914.61 513.5,894.73 518.7,925.91 524.0,928.08 529.2,921.15 534.5,932.82 539.8,916.73 545.0,918.57 550.3,901.14 555.6,900.66 560.8,902.36 566.1,910.25 571.3,902.61 576.6,878.92 581.9,884.34 587.1,881.89 592.4,865.48 597.7,860.54 602.9,858.42 608.2,857.76 613.4,884.05 618.7,870.84 624.0,880.75 629.2,877.23 634.5,868.66 639.7,869.43 645.0,871.38 650.3,863.52 655.5,882.38 660.8,866.51 666.1,898.76 671.3,903.04 676.6,894.03 681.8,890.12 687.1,895.02 692.4,876.93 697.6,893.24 702.9,909.56 708.2,905.12 713.4,913.93 718.7,923.51 723.9,916.01 729.2,914.72 734.5,920.99 739.7,889.69 745.0,870.73 750.2,877.66 755.5,870.17 760.8,868.41 766.0,859.06 771.3,865.90 776.6,860.69 781.8,852.01 787.1,830.40 792.3,827.34 797.6,854.62 802.9,878.53 808.1,892.07 813.4,882.53 818.7,880.94 823.9,873.29 829.2,878.87 834.4,889.81 839.7,887.18 845.0,880.77 850.2,875.64 855.5,873.47 860.8,908.74 866.0,905.75 871.3,902.31 876.5,900.18 881.8,891.86 887.1,881.98 892.3,876.69 897.6,875.12 902.8,892.19 908.1,887.63 913.4,911.01 918.6,913.74 923.9,923.57 929.2,911.56 934.4,910.78 939.7,908.27 944.9,920.25 950.2,904.80 955.5,903.24 960.7,934.10 966.0,940.77 971.3,943.92 976.5,942.41 981.8,942.66 987.0,941.80 992.3,925.22 997.6,911.79 1002.8,917.64 1008.1,914.68 1013.3,921.14 1018.6,926.43 1023.9,931.41 1029.1,934.93 1034.4,935.67 1039.7,935.67 1044.9,930.10 1050.2,945.17 1055.4,892.45 1060.7,879.60 1066.0,880.05 1071.2,900.73 1076.5,887.99 1081.8,894.84 1087.0,894.84 1092.3,896.39 1097.5,896.01 1102.8,894.77 1108.1,904.60 1113.3,912.89 1118.6,907.85 1123.9,891.64 1129.1,902.00 1134.4,895.87 1139.6,926.65 1144.9,929.84 1150.2,930.58 1155.4,939.26 1160.7,945.60 1165.9,946.31 1171.2,942.07 1176.5,943.37 1181.7,932.54 1187.0,910.68 1192.3,916.54 1197.5,913.87 1202.8,924.12 1208.0,916.81 1213.3,909.21 1218.6,917.48 1223.8,927.04 1229.1,918.76 1234.4,906.19 1239.6,910.87 1244.9,918.53 1250.1,930.56 1255.4,917.14 1260.7,920.87 1265.9,938.76 1271.2,941.02 1276.4,939.47 1281.7,942.47 1287.0,935.60 1292.2,926.90 1297.5,924.03 1302.8,932.36 1308.0,935.53 1313.3,938.60 1318.5,935.92 1323.8,915.97 1329.1,926.60 1334.3,929.04 1339.6,925.62 1344.9,931.19 1350.1,941.14 1355.4,943.21 1360.6,905.40 1365.9,916.48 1365.9,960.25" fill="url(#os)"/></g>
<g clip-path="url(#rsi)"><polyline points="13.6,874.41 18.8,872.00 24.1,871.03 29.4,869.81 34.6,867.55 39.9,864.93 45.1,862.33 50.4,862.77 55.7,862.81 60.9,863.16 66.2,864.71 71.5,866.02 76.7,867.33 82.0,869.02 87.2,870.39 92.5,873.36 97.8,875.78 103.0,878.85 108.3,884.51 113.5,891.52 118.8,898.47 124.1,902.42 129.3,907.99 134.6,911.69 139.9,913.90 145.1,916.77 150.4,920.22 155.6,923.85 160.9,928.78 166.2,931.07 171.4,933.75 176.7,935.49 182.0,934.55 187.2,932.25 192.5,930.44 197.7,928.42 203.0,924.83 208.3,923.12 213.5,922.42 218.8,920.87 224.0,919.15 229.3,917.00 234.6,914.92 239.8,913.71 245.1,910.79 250.4,907.86 255.6,906.52 260.9,906.40 266.1,907.62 271.4,909.57 276.7,912.30 281.9,914.66 287.2,915.18 292.5,917.05 297.7,919.45 303.0,922.06 308.2,924.06 313.5,925.92 318.8,928.74 324.0,933.40 329.3,936.17 334.6,938.86 339.8,939.65 345.1,938.64 350.3,937.13 355.6,936.07 360.9,937.23 366.1,938.12 371.4,938.76 376.6,939.39 381.9,940.99 387.2,942.60 392.4,943.19 397.7,942.76 403.0,944.68 408.2,945.17 413.5,945.79 418.7,948.17 424.0,951.49 429.3,954.73 434.5,956.57 439.8,955.95 445.1,954.23 450.3,952.13 455.6,949.35 460.8,947.04 466.1,945.06 471.4,941.97 476.6,937.68 481.9,934.49 487.1,930.79 492.4,926.90 497.7,921.19 502.9,916.16 508.2,912.70 513.5,909.75 518.7,909.55 524.0,909.69 529.2,909.56 534.5,910.08 539.8,909.74 545.0,910.48 550.3,910.39 555.6,909.93 560.8,910.23 566.1,910.85 571.3,912.02 576.6,910.61 581.9,908.45 587.1,907.53 592.4,903.21 597.7,898.39 602.9,893.91 608.2,888.55 613.4,886.21 618.7,882.80 624.0,881.35 629.2,879.68 634.5,877.27 639.7,874.35 645.0,872.12 650.3,871.02 655.5,870.88 660.8,869.78 666.1,872.16 671.3,875.20 676.6,877.74 681.8,880.05 687.1,880.83 692.4,881.27 697.6,882.16 702.9,884.47 708.2,887.07 713.4,890.25 718.7,893.98 723.9,897.73 729.2,900.04 734.5,903.93 739.7,903.28 745.0,900.97 750.2,899.80 755.5,898.38 760.8,896.48 766.0,895.20 771.3,893.25 776.6,889.76 781.8,885.96 787.1,880.00 792.3,873.13 797.6,868.74 802.9,866.16 808.1,864.09 813.4,863.58 818.7,864.31 823.9,864.00 829.2,864.62 834.4,866.15 839.7,868.16 845.0,869.22 850.2,870.29 855.5,871.82 860.8,877.41 866.0,883.02 871.3,886.42 876.5,887.97 881.8,887.95 887.1,887.91 892.3,887.61 897.6,887.74 902.8,888.69 908.1,888.54 913.4,890.24 918.6,892.59 923.9,896.02 929.2,898.74 934.4,898.88 939.7,899.06 944.9,900.35 950.2,900.68 955.5,901.49 960.7,905.21 966.0,909.79 971.3,914.70 976.5,918.29 981.8,922.22 987.0,924.42 992.3,925.24 997.6,924.40 1002.8,924.83 1008.1,925.11 1013.3,926.03 1018.6,926.47 1023.9,928.37 1029.1,930.64 1034.4,930.75 1039.7,930.38 1044.9,929.40 1050.2,929.59 1055.4,926.01 1060.7,921.56 1066.0,918.34 1071.2,917.55 1076.5,915.43 1081.8,914.01 1087.0,912.13 1092.3,909.99 1097.5,907.46 1102.8,904.59 1108.1,902.37 1113.3,900.74 1118.6,899.16 1123.9,895.33 1129.1,896.01 1134.4,897.18 1139.6,900.50 1144.9,902.58 1150.2,905.63 1155.4,908.80 1160.7,912.43 1165.9,915.99 1171.2,919.28 1176.5,922.75 1181.7,924.75 1187.0,924.59 1192.3,925.21 1197.5,926.80 1202.8,928.38 1208.0,929.87 1213.3,928.63 1218.6,927.75 1223.8,927.49 1229.1,926.03 1234.4,923.21 1239.6,920.68 1244.9,919.00 1250.1,918.08 1255.4,916.98 1260.7,917.71 1265.9,919.30 1271.2,921.24 1276.4,922.34 1281.7,924.17 1287.0,926.05 1292.2,926.73 1297.5,926.51 1302.8,927.48 1308.0,929.58 1313.3,931.56 1318.5,932.80 1323.8,931.76 1329.1,932.44 1334.3,933.02 1339.6,932.08 1344.9,931.38 1350.1,931.50 1355.4,931.55 1360.6,929.39 1365.9,928.65" fill="none" stroke="#F7D34A" stroke-width="1.7" stroke-linejoin="round" opacity="0.9"/>
<polyline points="13.6,852.41 18.8,852.58 24.1,871.01 29.4,865.89 34.6,849.46 39.9,842.90 45.1,841.36 50.4,882.34 55.7,874.90 60.9,877.58 66.2,892.72 71.5,887.62 76.7,886.00 82.0,889.57 87.2,871.61 92.5,894.15 97.8,904.80 103.0,908.93 108.3,928.68 113.5,941.02 118.8,938.62 124.1,937.71 129.3,952.84 134.6,929.39 139.9,923.62 145.1,927.79 150.4,934.30 155.6,940.46 160.9,940.63 166.2,926.18 171.4,942.28 176.7,933.33 182.0,915.49 187.2,908.85 192.5,913.26 197.7,909.53 203.0,902.50 208.3,905.48 213.5,913.85 218.8,906.04 224.0,910.26 229.3,910.26 234.6,911.53 239.8,909.26 245.1,901.40 250.4,892.28 255.6,896.76 260.9,907.18 266.1,930.28 271.4,936.95 276.7,940.61 281.9,938.57 287.2,921.07 292.5,932.25 297.7,943.90 303.0,946.86 308.2,939.42 313.5,935.29 318.8,940.99 324.0,957.50 329.3,935.47 334.6,944.93 339.8,941.24 345.1,922.82 350.3,919.57 355.6,923.75 360.9,937.27 366.1,944.71 371.4,952.78 376.6,955.67 381.9,961.81 387.2,957.92 392.4,949.26 397.7,951.37 403.0,962.38 408.2,951.80 413.5,950.00 418.7,956.05 424.0,966.15 429.3,969.03 434.5,963.08 439.8,935.99 445.1,928.76 450.3,926.19 455.6,922.94 460.8,925.52 466.1,921.54 471.4,908.19 476.6,902.34 481.9,907.07 487.1,898.24 492.4,901.49 497.7,886.34 502.9,898.60 508.2,914.61 513.5,894.73 518.7,925.91 524.0,928.08 529.2,921.15 534.5,932.82 539.8,916.73 545.0,918.57 550.3,901.14 555.6,900.66 560.8,902.36 566.1,910.25 571.3,902.61 576.6,878.92 581.9,884.34 587.1,881.89 592.4,865.48 597.7,860.54 602.9,858.42 608.2,857.76 613.4,884.05 618.7,870.84 624.0,880.75 629.2,877.23 634.5,868.66 639.7,869.43 645.0,871.38 650.3,863.52 655.5,882.38 660.8,866.51 666.1,898.76 671.3,903.04 676.6,894.03 681.8,890.12 687.1,895.02 692.4,876.93 697.6,893.24 702.9,909.56 708.2,905.12 713.4,913.93 718.7,923.51 723.9,916.01 729.2,914.72 734.5,920.99 739.7,889.69 745.0,870.73 750.2,877.66 755.5,870.17 760.8,868.41 766.0,859.06 771.3,865.90 776.6,860.69 781.8,852.01 787.1,830.40 792.3,827.34 797.6,854.62 802.9,878.53 808.1,892.07 813.4,882.53 818.7,880.94 823.9,873.29 829.2,878.87 834.4,889.81 839.7,887.18 845.0,880.77 850.2,875.64 855.5,873.47 860.8,908.74 866.0,905.75 871.3,902.31 876.5,900.18 881.8,891.86 887.1,881.98 892.3,876.69 897.6,875.12 902.8,892.19 908.1,887.63 913.4,911.01 918.6,913.74 923.9,923.57 929.2,911.56 934.4,910.78 939.7,908.27 944.9,920.25 950.2,904.80 955.5,903.24 960.7,934.10 966.0,940.77 971.3,943.92 976.5,942.41 981.8,942.66 987.0,941.80 992.3,925.22 997.6,911.79 1002.8,917.64 1008.1,914.68 1013.3,921.14 1018.6,926.43 1023.9,931.41 1029.1,934.93 1034.4,935.67 1039.7,935.67 1044.9,930.10 1050.2,945.17 1055.4,892.45 1060.7,879.60 1066.0,880.05 1071.2,900.73 1076.5,887.99 1081.8,894.84 1087.0,894.84 1092.3,896.39 1097.5,896.01 1102.8,894.77 1108.1,904.60 1113.3,912.89 1118.6,907.85 1123.9,891.64 1129.1,902.00 1134.4,895.87 1139.6,926.65 1144.9,929.84 1150.2,930.58 1155.4,939.26 1160.7,945.60 1165.9,946.31 1171.2,942.07 1176.5,943.37 1181.7,932.54 1187.0,910.68 1192.3,916.54 1197.5,913.87 1202.8,924.12 1208.0,916.81 1213.3,909.21 1218.6,917.48 1223.8,927.04 1229.1,918.76 1234.4,906.19 1239.6,910.87 1244.9,918.53 1250.1,930.56 1255.4,917.14 1260.7,920.87 1265.9,938.76 1271.2,941.02 1276.4,939.47 1281.7,942.47 1287.0,935.60 1292.2,926.90 1297.5,924.03 1302.8,932.36 1308.0,935.53 1313.3,938.60 1318.5,935.92 1323.8,915.97 1329.1,926.60 1334.3,929.04 1339.6,925.62 1344.9,931.19 1350.1,941.14 1355.4,943.21 1360.6,905.40 1365.9,916.48" fill="none" stroke="#7E57C2" stroke-width="1.3" stroke-linejoin="round"/></g>
<path d="M1507.5 905.2 H1567.2 Q1569.7 905.2 1569.7 907.7 V925.0 Q1569.7 927.5 1567.2 927.5 H1507.5 Z" fill="#7E57C2"/>
<text x="1519" y="921.8" font-size="16" fill="#fff" letter-spacing="0.6">47.11</text>
<path d="M1507.5 928.1 H1567.2 Q1569.7 928.1 1569.7 930.6 V947.7 Q1569.7 950.2 1567.2 950.2 H1507.5 Z" fill="#F9D12F"/>
<text x="1519" y="945.4" font-size="16" fill="#131722" letter-spacing="0.6">42.38</text>
<defs><clipPath id="flagclip"><rect x="1340" y="770" width="165.5" height="38"/></clipPath></defs><g clip-path="url(#flagclip)">
<circle cx="1366.25" cy="790.6" r="12.6" fill="#fff" stroke="#8A22A6" stroke-width="1.9"/>
<polygon points="1370.05,783.85 1360.55,791.85 1366.55,791.85 1362.05,797.65 1371.25,790.45 1365.35,790.45" fill="#8E1FA8" stroke="#8E1FA8" stroke-width="0.6" stroke-linejoin="round"/>
<clipPath id="fc0"><circle cx="1403" cy="790.4" r="10.5"/></clipPath>
<circle cx="1403" cy="790.4" r="13.4" fill="#fff" stroke="#D8253F" stroke-width="2"/>
<g clip-path="url(#fc0)"><rect x="1391" y="778" width="24" height="26" fill="#fff"/>
<rect x="1391" y="781" width="24" height="2.4" fill="#EE3F4E"/>
<rect x="1391" y="788" width="24" height="4.5" fill="#EE3F4E"/>
<rect x="1391" y="796.2" width="24" height="5" fill="#EE3F4E"/>
<rect x="1391" y="778" width="14.1" height="14.5" fill="#2F86E8"/>
<circle cx="1395.10" cy="782.50" r="1.05" fill="#d4f6ff"/>
<circle cx="1395.10" cy="786.05" r="1.05" fill="#d4f6ff"/>
<circle cx="1395.10" cy="789.60" r="1.05" fill="#d4f6ff"/>
<circle cx="1398.65" cy="782.50" r="1.05" fill="#d4f6ff"/>
<circle cx="1398.65" cy="786.05" r="1.05" fill="#d4f6ff"/>
<circle cx="1398.65" cy="789.60" r="1.05" fill="#d4f6ff"/>
<circle cx="1402.20" cy="782.50" r="1.05" fill="#d4f6ff"/>
<circle cx="1402.20" cy="786.05" r="1.05" fill="#d4f6ff"/>
<circle cx="1402.20" cy="789.60" r="1.05" fill="#d4f6ff"/>
</g>
<clipPath id="fc1"><circle cx="1434.3" cy="790.4" r="10.5"/></clipPath>
<circle cx="1434.3" cy="790.4" r="13.4" fill="#fff" stroke="#D8253F" stroke-width="2"/>
<g clip-path="url(#fc1)"><rect x="1422.3" y="778" width="24" height="26" fill="#fff"/>
<rect x="1422.3" y="781" width="24" height="2.4" fill="#EE3F4E"/>
<rect x="1422.3" y="788" width="24" height="4.5" fill="#EE3F4E"/>
<rect x="1422.3" y="796.2" width="24" height="5" fill="#EE3F4E"/>
<rect x="1422.3" y="778" width="14.1" height="14.5" fill="#2F86E8"/>
<circle cx="1426.40" cy="782.50" r="1.05" fill="#d4f6ff"/>
<circle cx="1426.40" cy="786.05" r="1.05" fill="#d4f6ff"/>
<circle cx="1426.40" cy="789.60" r="1.05" fill="#d4f6ff"/>
<circle cx="1429.95" cy="782.50" r="1.05" fill="#d4f6ff"/>
<circle cx="1429.95" cy="786.05" r="1.05" fill="#d4f6ff"/>
<circle cx="1429.95" cy="789.60" r="1.05" fill="#d4f6ff"/>
<circle cx="1433.50" cy="782.50" r="1.05" fill="#d4f6ff"/>
<circle cx="1433.50" cy="786.05" r="1.05" fill="#d4f6ff"/>
<circle cx="1433.50" cy="789.60" r="1.05" fill="#d4f6ff"/>
</g>
<clipPath id="fc2"><circle cx="1465.6" cy="790.4" r="10.5"/></clipPath>
<circle cx="1465.6" cy="790.4" r="13.4" fill="#fff" stroke="#D8253F" stroke-width="2"/>
<g clip-path="url(#fc2)"><rect x="1453.6" y="778" width="24" height="26" fill="#fff"/>
<rect x="1453.6" y="781" width="24" height="2.4" fill="#EE3F4E"/>
<rect x="1453.6" y="788" width="24" height="4.5" fill="#EE3F4E"/>
<rect x="1453.6" y="796.2" width="24" height="5" fill="#EE3F4E"/>
<rect x="1453.6" y="778" width="14.1" height="14.5" fill="#2F86E8"/>
<circle cx="1457.70" cy="782.50" r="1.05" fill="#d4f6ff"/>
<circle cx="1457.70" cy="786.05" r="1.05" fill="#d4f6ff"/>
<circle cx="1457.70" cy="789.60" r="1.05" fill="#d4f6ff"/>
<circle cx="1461.25" cy="782.50" r="1.05" fill="#d4f6ff"/>
<circle cx="1461.25" cy="786.05" r="1.05" fill="#d4f6ff"/>
<circle cx="1461.25" cy="789.60" r="1.05" fill="#d4f6ff"/>
<circle cx="1464.80" cy="782.50" r="1.05" fill="#d4f6ff"/>
<circle cx="1464.80" cy="786.05" r="1.05" fill="#d4f6ff"/>
<circle cx="1464.80" cy="789.60" r="1.05" fill="#d4f6ff"/>
</g>
<clipPath id="fc3"><circle cx="1496.9" cy="790.4" r="10.5"/></clipPath>
<circle cx="1496.9" cy="790.4" r="13.4" fill="#fff" stroke="#D8253F" stroke-width="2"/>
<g clip-path="url(#fc3)"><rect x="1484.9" y="778" width="24" height="26" fill="#fff"/>
<rect x="1484.9" y="781" width="24" height="2.4" fill="#EE3F4E"/>
<rect x="1484.9" y="788" width="24" height="4.5" fill="#EE3F4E"/>
<rect x="1484.9" y="796.2" width="24" height="5" fill="#EE3F4E"/>
<rect x="1484.9" y="778" width="14.1" height="14.5" fill="#2F86E8"/>
<circle cx="1489.00" cy="782.50" r="1.05" fill="#d4f6ff"/>
<circle cx="1489.00" cy="786.05" r="1.05" fill="#d4f6ff"/>
<circle cx="1489.00" cy="789.60" r="1.05" fill="#d4f6ff"/>
<circle cx="1492.55" cy="782.50" r="1.05" fill="#d4f6ff"/>
<circle cx="1492.55" cy="786.05" r="1.05" fill="#d4f6ff"/>
<circle cx="1492.55" cy="789.60" r="1.05" fill="#d4f6ff"/>
<circle cx="1496.10" cy="782.50" r="1.05" fill="#d4f6ff"/>
<circle cx="1496.10" cy="786.05" r="1.05" fill="#d4f6ff"/>
<circle cx="1496.10" cy="789.60" r="1.05" fill="#d4f6ff"/>
</g>
</g>
<g fill="#131722"><path d="M16.4 1051.6 H31.75 V1071.1 H24.25 V1058.75 H16.4 Z"/><circle cx="38.9" cy="1055.5" r="3.35"/><path d="M43.75 1051.6 H55.75 L49.4 1071.1 H39.6 Z"/></g>
<text x="66" y="1071.1" font-size="27" font-weight="bold" fill="#131722" letter-spacing="0.25">TradingView</text>
<text x="93.0" y="1009.7" font-size="16" fill="#131722" text-anchor="middle" letter-spacing="0.8" font-weight="normal">23</text>
<text x="187.7" y="1009.7" font-size="16" fill="#131722" text-anchor="middle" letter-spacing="0.8" font-weight="normal">26</text>
<text x="282.4" y="1009.7" font-size="16" fill="#131722" text-anchor="middle" letter-spacing="0.8" font-weight="normal">29</text>
<text x="377.1" y="1009.7" font-size="16" fill="#131722" text-anchor="middle" letter-spacing="0.2" font-weight="bold">Aug</text>
<text x="471.9" y="1009.7" font-size="16" fill="#131722" text-anchor="middle" letter-spacing="0.8" font-weight="normal">4</text>
<text x="566.6" y="1009.7" font-size="16" fill="#131722" text-anchor="middle" letter-spacing="0.8" font-weight="normal">7</text>
<text x="661.3" y="1009.7" font-size="16" fill="#131722" text-anchor="middle" letter-spacing="0.8" font-weight="normal">10</text>
<text x="756.0" y="1009.7" font-size="16" fill="#131722" text-anchor="middle" letter-spacing="0.8" font-weight="normal">13</text>
<text x="850.7" y="1009.7" font-size="16" fill="#131722" text-anchor="middle" letter-spacing="0.8" font-weight="normal">16</text>
<text x="945.4" y="1009.7" font-size="16" fill="#131722" text-anchor="middle" letter-spacing="0.8" font-weight="normal">19</text>
<text x="1040.2" y="1009.7" font-size="16" fill="#131722" text-anchor="middle" letter-spacing="0.8" font-weight="normal">22</text>
<text x="1134.9" y="1009.7" font-size="16" fill="#131722" text-anchor="middle" letter-spacing="0.8" font-weight="normal">25</text>
<text x="1229.6" y="1009.7" font-size="16" fill="#131722" text-anchor="middle" letter-spacing="0.8" font-weight="normal">28</text>
<text x="1355.9" y="1009.7" font-size="16" fill="#131722" text-anchor="middle" letter-spacing="0.2" font-weight="bold">Sep</text>
<text x="1450.6" y="1009.7" font-size="16" fill="#131722" text-anchor="middle" letter-spacing="0.8" font-weight="normal">4</text>
<text x="24.5" y="836" font-size="16" fill="#131722" letter-spacing="0.12">RSI (14, close)</text>
<text x="142.5" y="836" font-size="16" fill="#7E57C2" letter-spacing="-0.5">47.11</text>
<text x="188.5" y="836" font-size="16" fill="#F7CE46" letter-spacing="0.9">42.38</text>
<text x="1519" y="838.8" font-size="16.5" fill="#131722" letter-spacing="0.85">80.00</text>
<text x="1519" y="889.8" font-size="16.5" fill="#131722" letter-spacing="0.85">60.00</text>
</svg></body></html>
